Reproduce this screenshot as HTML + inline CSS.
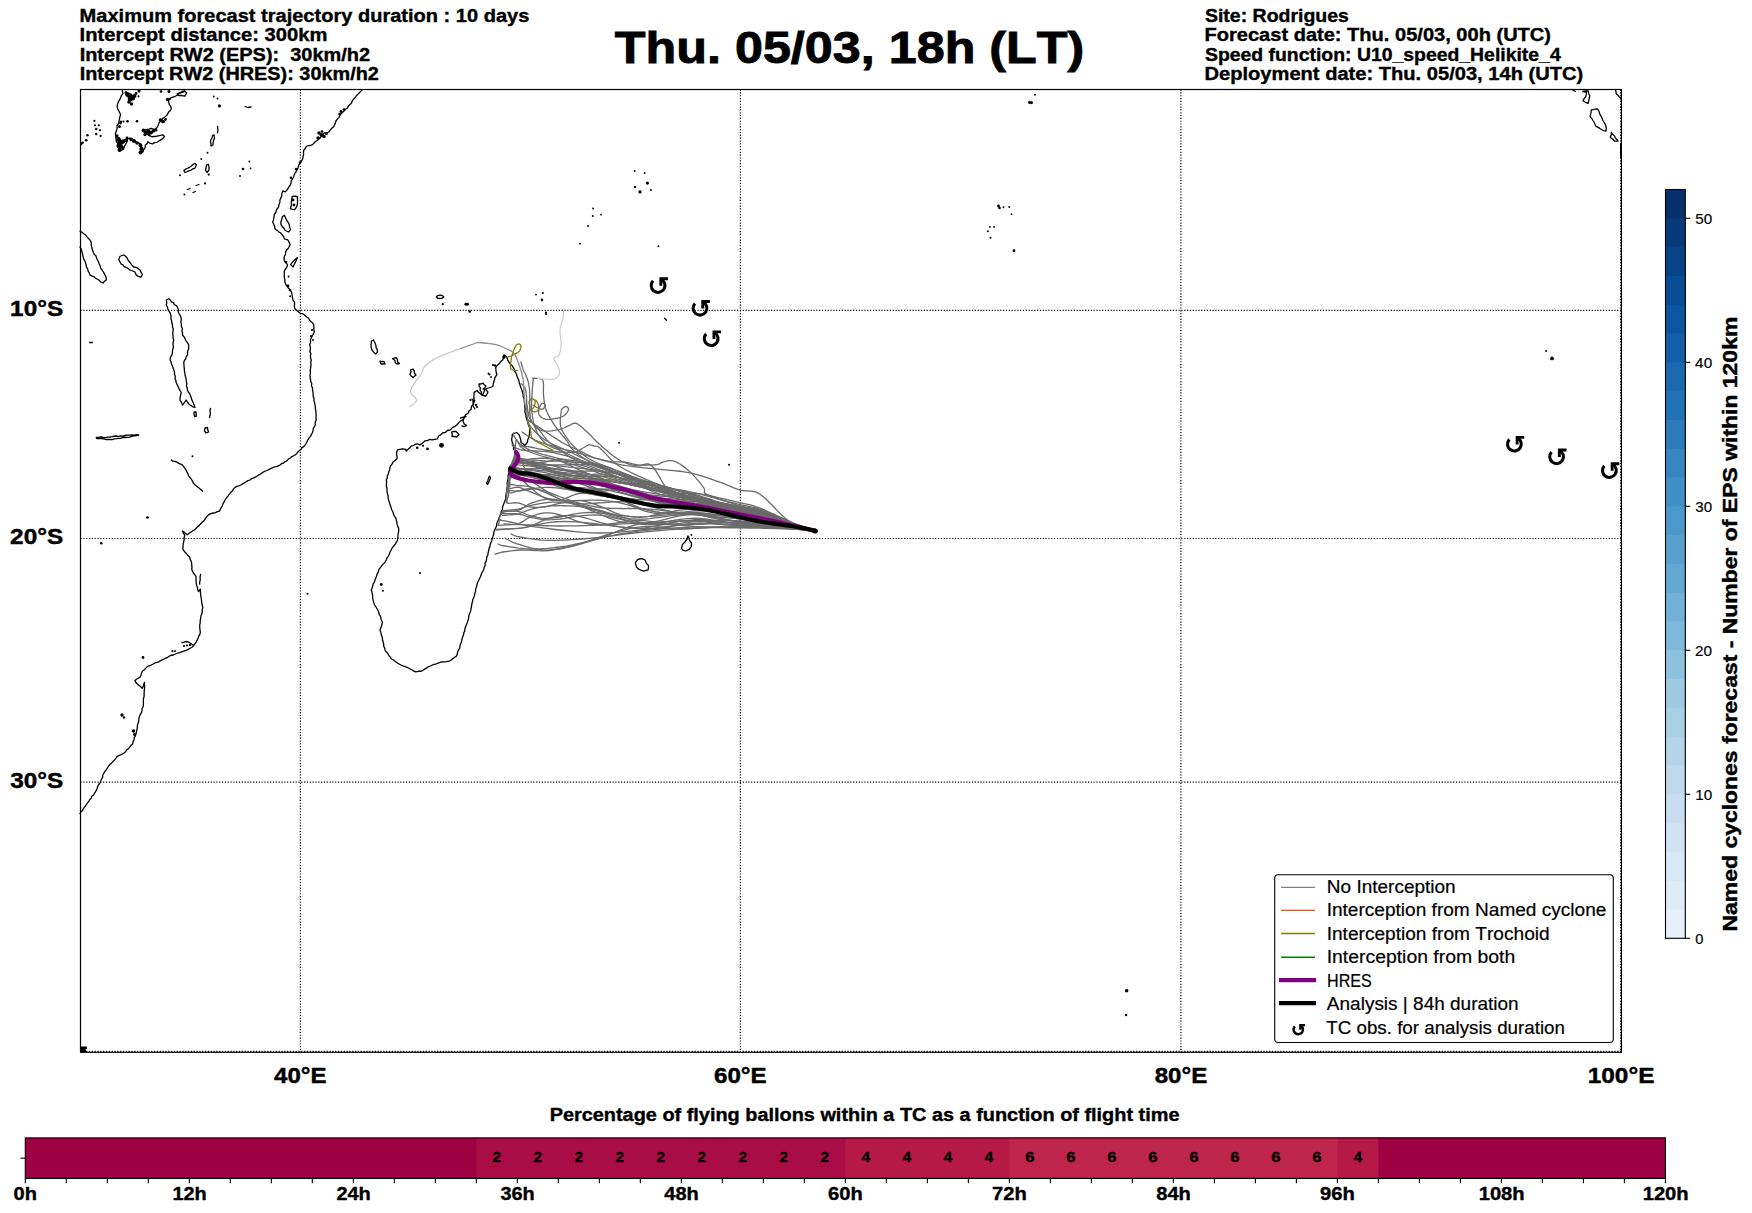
<!DOCTYPE html><html><head><meta charset="utf-8"><title>TC trajectories</title><style>html,body{margin:0;padding:0;background:#fff;}svg{display:block;}text{font-family:"Liberation Sans",sans-serif;font-kerning:none;white-space:pre;}</style></head><body>
<svg width="1752" height="1213" viewBox="0 0 1752 1213">
<rect x="0" y="0" width="1752" height="1213" fill="#fff"/>
<g fill="none" stroke="#000" stroke-width="1.2" stroke-dasharray="1.15 1.68">
<line x1="300.4" y1="89.5" x2="300.4" y2="1052.3"/>
<line x1="740.4" y1="89.5" x2="740.4" y2="1052.3"/>
<line x1="1180.9" y1="89.5" x2="1180.9" y2="1052.3"/>
<line x1="1620.6" y1="89.5" x2="1620.6" y2="1052.3"/>
<line x1="80.5" y1="310.4" x2="1621.4" y2="310.4"/>
<line x1="80.5" y1="538.5" x2="1621.4" y2="538.5"/>
<line x1="80.5" y1="782.2" x2="1621.4" y2="782.2"/>
<line x1="80.5" y1="1051.4" x2="1621.4" y2="1051.4"/>
</g>
<g fill="none" stroke="#000" stroke-width="1.3" stroke-linejoin="round" stroke-linecap="round">
<path d="M362.5,89.6 L360.93,91.16 L359.36,92.73 L357.83,94.33 L356.24,95.88 L355,97.75 L353.6,99.3 L352.23,100.88 L351.55,102.98 L350.02,104.43 L348.47,105.87 L347.5,107.75 L345.67,109.29 L344,111 L341.77,112.91 L340,115.25 L338.92,117.34 L337.35,119.1 L336,121 L335.06,123.83 L333.75,126.5 L332.16,128.04 L330.58,129.58 L329.34,131.46 L327.5,132.75 L324,133 L322.8,134.89 L321.25,136.5 L319.5,138.5 L317.5,140.25 L315.61,141.45 L314.03,142.99 L312.5,144.6 L310.5,145.49 L308.26,145.64 L306.25,146.5 L305.24,148.54 L303.75,150.25 L303.44,152.32 L303.61,154.45 L303.1,156.5 L302.55,159.14 L301.25,161.5 L299.75,163.21 L298.75,165.25 L298.13,167.42 L297.29,169.5 L296.25,171.5 L294.97,173.2 L294.11,175.12 L293.59,177.2 L292.5,179 L291.25,180.81 L290.99,182.98 L290.3,185 L288.87,186.89 L287.8,189 L285.3,191.9 L282.8,190.9 L281.8,193.9 L281.7,195.98 L280.9,197.9 L279.88,199.98 L279.9,202.3 L278.93,204.73 L278.4,207.3 L276.65,209.5 L275.9,212.2 L274.46,214.47 L273.9,217.1 L273.53,219.66 L272.7,222.1 L273.7,223.98 L274.4,226 L275.4,229.5 L277.38,230.42 L278.9,232 L280.88,233.18 L282.3,235 L283.76,236.71 L284.3,238.9 L287.8,239.9 L289.17,242.25 L290.1,244.8 L288.6,247.8 L287.05,249.68 L285.7,251.7 L285.52,254.37 L284.2,256.7 L284.2,260.6 L285.7,262.6 L287.6,264.6 L286.7,267.5 L285.27,269.39 L284.2,271.5 L284.39,274.45 L284.2,277.4 L284.92,279.65 L284.83,282.08 L285.7,284.3 L287.17,286.29 L288.6,288.3 L290.28,290.17 L291.6,292.3 L292.12,295.25 L292.6,298.2 L293.03,300.25 L294.44,301.96 L294.6,304.1 L294.28,306.66 L295.1,309.1 L297.5,311.1 L300.5,313.5 L302.7,313.71 L304.5,315 L306.27,316.74 L308.4,318 L309.57,320.2 L311.4,321.9 L313.14,323.59 L313.9,325.9 L313.76,328.87 L314.3,331.8 L313.5,333.87 L312.4,335.8 L311.32,337.71 L310.4,339.7 L310.58,342.44 L309.6,345 L310.38,347.08 L310.45,349.24 L309.76,351.49 L310.9,353.53 L310.47,355.75 L310.5,357.91 L311.25,360 L310.72,362.11 L311.02,364.3 L310.83,366.44 L310.52,368.57 L310.14,370.7 L310.49,372.88 L310,375 L310.16,377.18 L310.48,379.32 L310.79,381.48 L311.79,383.51 L311.43,385.77 L312.47,387.8 L312.5,390 L312.98,392.12 L313.13,394.3 L313.24,396.48 L314.05,398.55 L313.95,400.77 L314.61,402.86 L315,405 L315.33,407.13 L315.5,409.27 L315.79,411.41 L316.05,413.54 L316.17,415.69 L315.92,417.87 L316.25,420 L315.24,421.97 L315.26,424.24 L314.72,426.35 L313.38,428.22 L313.1,430.41 L312.5,432.5 L311.49,434.32 L310.54,436.18 L309.22,437.82 L307.99,439.51 L307.17,441.45 L306.13,443.25 L305,445 L303.82,446.68 L301.91,447.62 L300.98,449.55 L299.29,450.72 L297.67,451.95 L296.64,453.78 L295,455 L293.23,455.96 L291.47,456.92 L289.94,458.25 L288.21,459.25 L286.84,460.82 L285.03,461.71 L283.49,463.01 L281.51,463.66 L280,465 L278.19,465.93 L276.26,466.6 L274.22,466.98 L272.39,467.86 L270.48,468.55 L268.76,469.72 L266.88,470.48 L265,471.25 L263.03,472.19 L261.26,473.45 L259.46,474.68 L257.54,475.69 L255.77,476.96 L253.8,477.9 L251.68,478.57 L250,480 L247.96,480.61 L246.2,481.78 L244.38,482.81 L242.56,483.87 L240.77,484.98 L238.83,485.79 L236.77,486.36 L235,487.5 L233.52,488.88 L232.59,490.69 L231.07,492.04 L229.83,493.61 L228.63,495.22 L227.4,496.79 L226.09,498.31 L225,500 L224.18,501.91 L223.02,503.66 L222.41,505.68 L221.34,507.47 L220.22,509.24 L219.5,511.2 L217.39,511.65 L215.41,512.56 L213.3,513 L210.72,513.62 L208.4,514.9 L206.76,516.67 L205.25,518.56 L204.05,520.7 L202.2,522.3 L200.67,523.75 L199.34,525.4 L197.6,526.64 L196.22,528.24 L194.7,529.7 L192.71,530.74 L190.93,532.1 L189.02,533.25 L187.3,534.7 L185.59,533.56 L184.1,532.14 L182.4,531 L183.43,533.24 L184.8,535.3 L184.14,537.52 L184.12,539.85 L183.6,542.1 L183.13,544.54 L182.91,547.01 L183,549.5 L184.43,551.45 L186.1,553.2 L187.68,555.37 L189.8,557 L190.08,559.14 L191.05,561.07 L191.7,563.1 L191.68,565.17 L191.97,567.23 L191.7,569.3 L192.54,571.31 L193.55,573.22 L194.94,574.92 L196,576.8 L196,578.96 L196.12,581.11 L196.27,583.26 L196.6,585.4 L197.48,587.39 L197.65,589.6 L198.5,591.6 L200.3,589.1 L200.44,591.61 L200.57,594.11 L200.9,596.6 L201.34,598.81 L201.56,601.06 L201.82,603.3 L202.31,605.5 L202.8,607.7 L202.15,609.81 L202.22,612.08 L201.64,614.21 L200.9,616.3 L200.65,618.48 L200.18,620.63 L200.22,622.86 L199.7,625 L199.75,627.48 L200,629.94 L200.3,632.4 L199.86,634.42 L198.77,636.16 L198.18,638.11 L197.2,639.9 L196.4,641.79 L195.25,643.46 L194.02,645.08 L192.8,646.7 L190.69,648.03 L188.46,649.12 L186.29,650.33 L183.9,651.1 L181.78,651.87 L179.67,652.68 L177.48,653.24 L175.36,654 L173.33,655.01 L171.02,655.25 L169,656.3 L167.21,657.66 L165.1,658.37 L163.18,659.46 L161.17,660.36 L159.31,661.57 L157.2,662.3 L154.85,662.98 L152.74,664.24 L150.59,665.42 L148.2,666 L146.17,667.67 L144.48,669.71 L142.3,671.2 L141.53,673.15 L140.95,675.18 L140.1,677.1 L138.33,678.28 L136.42,679.27 L134.9,680.8 L136.2,682.81 L137.9,684.5 L140.14,686.3 L142.3,688.2 L143.27,686.32 L143.87,684.31 L144.5,682.3 L144.54,684.87 L144.65,687.44 L144.3,690 L144.16,692.13 L144.12,694.27 L144.1,696.4 L143.54,698.44 L143.33,700.52 L143.41,702.63 L143.42,704.73 L143.1,706.8 L142.04,708.77 L141.95,711.1 L141.11,713.15 L140.01,715.1 L139.3,717.2 L138.8,719.3 L138.75,721.48 L137.96,723.52 L137.34,725.6 L137.33,727.79 L136.87,729.9 L136.4,732 L135.99,734.05 L135.33,736.02 L134.19,737.84 L134.03,739.96 L132.96,741.81 L132.7,743.9 L131.09,745.16 L129.91,746.81 L128.74,748.48 L126.95,749.57 L125.87,751.32 L124.5,752.8 L122.56,753.83 L120.63,754.86 L118.6,755.7 L116.84,756.91 L115.64,758.67 L114.27,760.27 L112.68,761.65 L111.4,763.33 L109.7,764.6 L108.42,766.33 L107.34,768.19 L106.24,770.03 L104.71,771.59 L103.7,773.5 L102.73,775.28 L102.61,777.39 L101.5,779.12 L100.8,781 L99.96,783.05 L98.49,784.78 L97.6,786.8 L96.98,788.96 L95.97,790.92 L94.8,792.8 L93.79,794.69 L92.01,796.04 L91.23,798.1 L89.8,799.68 L88.65,801.48 L87.4,803.2 L86.07,804.87 L84.87,806.62 L83.54,808.29 L82.72,810.31 L81.06,811.75 L80,813.6"/>
<path d="M292.2,196.4 L294.71,196.26 L297.2,196.6 L297.6,200 L297.46,202.4 L297.4,204.8 L296.22,207.34 L294.7,209.7 L292.45,209.44 L290.3,208.7 L291.5,205 L291.2,202.3 L291.74,199.36 L292.2,196.4 Z"/>
<path d="M284.3,215.2 L285.34,217.38 L286.3,219.6 L287.94,222.01 L289.3,224.6 L289.61,227.12 L290.5,229.5 L288.8,232 L285.3,230.5 L284.14,228.69 L282.8,227 L280.9,224.6 L280.8,222 L281.8,219.6 L282.3,216.7 L284.3,215.2 Z"/>
<path d="M297.5,257.6 L296,261 L294.6,263.6 L293.1,267 L290.6,264.6 L292.13,262.4 L294.1,260.6 L295.76,259.06 L297.5,257.6 Z"/>
<path d="M200.6,574.3 L200.07,577.13 L200.2,580 L199.64,582.06 L199.7,584.2"/>
<path d="M182,642.5 L184.01,642.04 L186,641.5 L188.14,641.89 L190,643 L193,645"/>
<path d="M122.3,90.3 L122.9,93.8 L121.36,95.58 L120.6,97.8 L119.55,99.91 L118.3,101.9 L117.58,104.17 L117.1,106.5 L117.69,108.92 L118.9,111.1 L120.6,114.6 L119.79,117.1 L119.4,119.7 L118.88,121.76 L118.3,123.8 L117.06,125.93 L117.1,128.4 L116.42,131.06 L115.4,133.6 L115.87,136.18 L116,138.8 L116.32,141.3 L117.7,143.4 L118.77,145.89 L118.9,148.6 L120,150.9 L123.5,149.2 L124.35,146.47 L125.8,144 L127.15,141.56 L127.5,138.8 L129.8,138.2 L132.12,138.41 L133.9,139.9 L135.29,141.54 L137.3,142.3 L140.8,144 L141.05,146.37 L141.9,148.6 L141.45,150.63 L140.8,152.6 L142.26,150.66 L144.2,149.2 L145.23,147.28 L145.4,145.1 L147.09,143.77 L147.7,141.7 L149.4,142.8 L152.3,144 L154.46,142.61 L157,142.3 L159.28,140.82 L161.6,139.4 L163.11,138.01 L164.5,136.5 L162.7,134.8 L160.4,135.35 L158.1,135.9 L156.14,136.47 L154.1,136.5 L151.97,136.75 L150,135.9 L147.7,134.2 L145.4,132.4 L143.1,130.7 L146.6,129.6 L148.93,129.13 L151.2,128.4 L154.6,129.6 L156.73,127.87 L158.1,125.5 L158.97,122.83 L161,120.9 L162.69,118.59 L165,116.9 L167.16,114.86 L168.5,112.2 L170.33,110.47 L171.4,108.2 L170.48,106.07 L169.1,104.2 L168.5,100.7 L170.8,97.8 L174.3,96.7 L177.7,94.9 L179.38,93.09 L181.8,92.6 L184.7,91.5"/>
<path d="M177.2,93.8 L179.66,92.97 L181.8,91.5 L185,90.9 L186.5,93 L185,96.1 L181.2,95.5 L178.3,95.5 L177.2,93.8 Z"/>
<path d="M212.5,135.5 L214,134.8 L214.5,138 L213.63,140.25 L213.11,142.58 L213,145 L211,146 L210.91,143.98 L210.5,142 L210.82,139.73 L212.09,137.75 L212.5,135.5 Z"/>
<path d="M183.8,170.5 L185.55,169.14 L187.6,168.27 L189.59,167.31 L191.36,165.98 L192.98,164.42 L195,163.5 L196.5,165 L195.64,166.83 L194.5,168.5 L192.47,168.99 L190.81,170.36 L188.77,170.82 L186.93,171.76 L185,172.5 L183.8,170.5 Z"/>
<path d="M206.5,165 L208.5,164.5 L209.02,167.23 L209,170 L207,172.5 L205.5,170 L206.1,167.52 L206.5,165 Z"/>
<path d="M217.5,126.5 L217.87,128.58 L217.81,130.67 L217.5,132.75"/>
<path d="M245,106.5 L248,107.5 L251,107"/>
<path d="M196,185.5 L199,184.5"/>
<path d="M187.5,189.5 L190,188.5"/>
<path d="M193,192.5 L195.5,191.5"/>
<path d="M80,231.25 L81.96,232.38 L83.75,233.75 L85.99,235.26 L87.5,237.5 L90,240 L91.14,242.37 L91.25,245 L91.79,247.52 L92.5,250 L93.24,252.13 L94.09,254.2 L95.89,255.8 L96.57,257.96 L97.5,260 L98.6,261.91 L99.19,264.05 L100.21,265.99 L100.62,268.22 L102,270 L103.63,272.42 L105,275 L106.14,277.37 L106.25,280 L104.46,281.33 L103,283 L100.77,282.02 L99.09,280.2 L97,279 L95.25,277.99 L93.74,276.57 L91.78,275.94 L90,275 L89.33,272.95 L88.14,271.11 L87.66,268.98 L86.53,267.11 L86,265 L85.62,262.74 L84.69,260.66 L83.58,258.63 L83.03,256.43 L82.52,254.21 L82,252 L81.26,249.39 L80,247"/>
<path d="M120,256.25 L123.75,255 L125.64,256.22 L127,258 L128.29,260.39 L130,262.5 L131.73,264.87 L133.75,267 L136.04,267.28 L138,268.5 L140,270 L141.07,272.35 L142.5,274.5 L141,277 L137.5,276 L135.83,274.26 L135,272 L131.5,270.5 L129.45,269.9 L127.89,268.4 L126,267.5 L124.15,266.59 L122.93,264.8 L121,264 L119.85,261.76 L118.75,259.5 L120,256.25 Z"/>
<path d="M168.75,298.75 L170.36,300.06 L171.42,301.92 L173.52,302.73 L174.39,304.77 L176.42,305.66 L177.5,307.5 L178.53,309.46 L178.23,311.82 L179.17,313.81 L180.32,315.74 L181.07,317.78 L181.25,320 L180.86,322.19 L181.41,324.3 L181.4,326.46 L182.4,328.54 L181.99,330.73 L182.5,332.84 L182.5,335 L184.02,336.83 L185.17,338.89 L186.13,341.07 L187.65,342.9 L188.75,345 L188.64,347.02 L188.68,349.05 L187.61,350.95 L187.57,352.98 L187.5,355 L186.24,356.71 L185.7,358.79 L184.44,360.5 L183.75,362.5 L183.94,364.58 L184.09,366.67 L184.32,368.76 L184.39,370.85 L184.87,372.91 L185,375 L185.68,377.09 L186.08,379.22 L186.31,381.39 L186.79,383.51 L186.48,385.77 L187.16,387.85 L187.5,390 L188.25,391.97 L189.73,393.57 L190.33,395.61 L191.25,397.5 L191.71,399.61 L192.66,401.53 L193.55,403.48 L194.28,405.49 L195,407.5 L192.36,406.54 L190,405 L188.53,403.5 L187.28,401.83 L186.25,400 L185.08,401.73 L183.82,403.39 L182.5,405 L181.52,402.36 L180,400 L180.14,397.45 L180.64,394.97 L181.25,392.5 L180.09,390.58 L179.01,388.62 L178.1,386.58 L177.06,384.59 L176.25,382.5 L175.82,380.42 L175.05,378.41 L175.33,376.18 L174.48,374.19 L174.51,372.01 L173.75,370 L173.14,367.95 L172.38,365.95 L171.48,364.01 L171.08,361.87 L170,360 L170.4,357.36 L171.86,355.06 L172.5,352.5 L172.46,350.39 L173.12,348.35 L173.4,346.28 L172.93,344.13 L173.18,342.05 L173.75,340 L173,337.9 L173.07,335.74 L172.71,333.61 L172.92,331.44 L173.42,329.24 L172.52,327.16 L172.5,325 L171.86,322.96 L171.63,320.84 L170.99,318.8 L171.11,316.61 L170.67,314.53 L170,312.5 L168.7,310.81 L167.85,308.89 L167.37,306.78 L166.25,305 L166.78,302.5 L166.25,300 L168.75,298.75 Z"/>
<path d="M194,412 L196,412 L196.13,414.01 L196.5,416 L194.5,416.5 L194.19,414.26 L194,412 Z"/>
<path d="M210.5,408.5 L209.87,410.71 L210.39,413.04 L210.1,415.29 L209.5,417.5"/>
<path d="M205,428 L207.5,427.5 L207.78,429.8 L208.5,432 L206,433 L204.5,431 L205,428 Z"/>
<path d="M96.25,437.5 L98.54,437.34 L100.82,436.97 L103.13,437.29 L105.43,437.56 L107.71,437.1 L110,437 L112.13,436.67 L114.25,436.25 L116.39,436.02 L118.6,436.46 L120.71,435.92 L122.89,436.06 L125,435.5 L127.28,435.06 L129.58,435.13 L131.86,434.89 L134.16,435.08 L136.45,434.73 L138.75,435 L136.49,435.61 L134.18,435.91 L131.9,436.4 L129.65,437.02 L127.36,437.45 L125,437.5 L122.81,437.41 L120.75,438.33 L118.57,438.35 L116.44,438.72 L114.28,438.9 L112.19,439.54 L110,439.5 L107.82,439.48 L105.64,439.48 L103.5,438.97 L101.36,438.5 L99.17,438.59 L97,438.5 L96.25,437.5 Z"/>
<path d="M171.25,460 L173.01,461.09 L175.09,461.46 L177.03,462.15 L178.74,463.36 L180.63,464.16 L182.5,465 L183.62,466.7 L184.91,468.28 L186,470 L186.91,471.92 L187.84,473.83 L188.71,475.78 L190,477.5 L191.38,479.29 L192.53,481.23 L193.53,483.27 L195,485 L197.02,486.39 L198.95,487.89 L200.72,489.57 L202.5,491.25"/>
<path d="M503.8,354.8 L505.8,355.8 L507.1,357.65 L507.61,359.9 L508.8,361.8 L509.9,363.59 L511.52,364.97 L512.7,366.7 L514.12,369.08 L515,371.7 L516.14,373.5 L516.85,375.49 L517.5,377.5 L518.65,379.89 L519.22,382.48 L520,385 L520.77,387.52 L521.86,389.94 L522.5,392.5 L523.22,394.43 L523.1,396.53 L524,398.43 L524.26,400.46 L524.4,402.5 L524.69,404.49 L524.74,406.49 L525.08,408.48 L524.94,410.5 L525,412.5 L525.77,414.65 L526.06,416.93 L526.83,419.07 L527.5,421.25 L528.03,423.85 L529.05,426.29 L530,428.75 L529.59,430.81 L529.54,432.91 L529.4,435 L528.74,437.48 L527.76,439.86 L527.3,442.4 L524.8,445.5 L522.98,443.85 L521,442.4 L520.75,439.85 L519.98,437.42 L519.2,435 L516.7,432.5 L514.44,433.25 L512.3,434.3 L512.18,436.53 L511.7,438.7 L511.83,440.86 L512.55,442.92 L513.13,445.01 L513.56,447.12 L513.6,449.3 L515.36,451.3 L516.7,453.6 L515.99,455.68 L514.81,457.54 L514.22,459.67 L513.5,461.74 L512.3,463.6 L510.9,465.14 L509.8,466.91 L508.6,468.6 L508.78,471.1 L508.56,473.56 L508,476 L508.18,478.02 L507.87,480.01 L507.35,481.98 L507.16,483.98 L507.4,486 L506.95,488.13 L506.9,490.32 L506.38,492.44 L506.08,494.59 L505.75,496.74 L505.64,498.92 L504.9,501 L504.12,503.11 L503.22,505.17 L502.59,507.33 L502.35,509.62 L501.31,511.64 L500.86,513.86 L499.9,515.9 L499.03,517.8 L498.51,519.83 L497.43,521.65 L496.82,523.65 L496.62,525.79 L495.75,527.69 L494.9,529.6 L493.96,531.68 L493.68,533.96 L493.08,536.14 L492.4,538.3 L491.83,540.4 L490.96,542.41 L490.22,544.45 L489.91,546.63 L488.96,548.61 L488.7,550.8 L488.07,552.85 L487.9,555.02 L486.79,556.93 L486.54,559.08 L486.27,561.23 L485,563.1 L485.17,565.36 L484.2,567.32 L483.7,569.4 L482.83,571.28 L481.65,573.01 L481.12,575.05 L480.36,576.98 L479.43,578.83 L478.6,580.73 L477.5,582.5 L476.92,584.63 L476.54,586.81 L475.7,588.88 L475.56,591.12 L474.94,593.24 L474.48,595.41 L473.75,597.5 L472.84,599.55 L472.41,601.72 L471.87,603.86 L471.52,606.05 L471.15,608.23 L470.81,610.43 L470,612.5 L469.12,614.51 L468.76,616.67 L468.48,618.86 L467.75,620.91 L467.18,623.01 L466.25,625 L465.53,626.9 L464.83,628.8 L464.81,630.9 L463.8,632.71 L463.61,634.76 L462.78,636.63 L462.08,638.53 L461.71,640.53 L461.25,642.5 L460.31,644.38 L459.91,646.46 L459.48,648.53 L458.38,650.35 L457.61,652.3 L457.2,654.37 L456.25,656.25 L454.42,657.57 L452.58,658.87 L450.83,660.31 L448.75,661.25 L446.26,661.65 L443.76,661.84 L441.25,662 L439.38,662.73 L437.44,663.26 L435.65,664.2 L433.61,664.47 L431.79,665.31 L430,666.25 L428.08,666.96 L426.42,668.12 L424.68,669.13 L422.99,670.22 L421.25,671.25 L419.15,671.18 L417.09,671.69 L415,671.75 L413.16,670.62 L411.32,669.5 L409.38,668.55 L407.5,667.5 L405.24,666.72 L402.99,665.94 L400.81,664.99 L398.75,663.75 L396.81,662.6 L395.04,661.2 L393.24,659.83 L391.25,658.75 L390.14,656.9 L388.62,655.34 L387.78,653.3 L386.1,651.85 L385,650 L384.67,647.96 L383.67,646.08 L383.7,643.95 L383.13,641.97 L382.5,640 L382.35,637.91 L381.81,635.92 L381.15,633.96 L380.76,631.93 L380,630 L381.01,627.56 L381.75,625.03 L382.5,622.5 L381.53,620.58 L381.01,618.5 L380.55,616.39 L379.3,614.57 L378.75,612.5 L378.09,610.33 L376.78,608.48 L375.67,606.54 L374.39,604.68 L373.75,602.5 L373.25,600.43 L372.66,598.38 L372.62,596.23 L372.4,594.1 L371.99,592.02 L371.25,590 L372.09,588.03 L372.67,585.97 L373.21,583.89 L374.39,582.05 L375,580 L375.79,578.02 L376.66,576.06 L377.16,573.96 L378.29,572.11 L378.75,570 L379.82,568.2 L381.13,566.57 L382.35,564.89 L383.83,563.39 L385.25,561.86 L386.25,560 L387.01,557.88 L388.35,556.05 L389.44,554.1 L390.05,551.9 L391.25,550 L392.2,547.81 L393.79,546.03 L395.22,544.14 L396.51,542.16 L397.5,540 L397.93,538.02 L397.93,535.99 L398.19,533.99 L398.52,532 L398.75,530 L398.56,527.92 L397.6,526.04 L397.08,524.04 L396.83,521.98 L396.25,520 L395.78,517.86 L394.39,516.09 L393.46,514.14 L393,512 L391.72,509.79 L391.05,507.31 L390,505 L389.58,502.81 L388.75,500.72 L388.26,498.56 L388.07,496.32 L387.61,494.14 L387,492 L387.03,489.99 L386.93,487.99 L386.27,486.02 L386.49,484 L386.64,481.98 L386.25,480 L387.23,478.02 L387.36,475.79 L388.39,473.83 L388.86,471.7 L389.7,469.68 L390,467.5 L390.81,465.56 L392.14,463.91 L393,462 L395.17,460.56 L397,458.7 L397.08,456.47 L396.49,454.21 L396.79,451.99 L397.5,449.8 L400,449.3 L402.39,448.99 L404.71,449.2 L406.9,450.3 L409.8,447.8 L411.09,446.12 L413.26,445.72 L414.8,444.4 L417.33,443.9 L419.7,444.9 L421.67,443.95 L423.31,442.58 L424.7,440.9 L427.33,440.72 L429.6,439.4 L432.1,439.98 L434.6,439.4 L437.5,438.9 L438.5,436 L440.74,434.82 L442.5,433 L445.32,432.47 L447.4,430.5 L450.34,429.8 L452.4,427.6 L455.3,426.1 L456.97,424.77 L458.3,423.1 L460.3,421.1 L462.92,419.78 L464.3,417.2 L465.71,414.67 L468.2,413.2 L469.1,410.79 L471.2,409.3 L471.43,406.49 L473.2,404.3 L473.1,401.75 L474.1,399.4 L473.86,397.07 L474.02,394.73 L474.1,392.4 L477.1,390.5 L478.36,392.2 L480.1,393.4 L482.1,395.4 L483.47,393.6 L484,391.4 L484.95,389.38 L487,388.5 L490,387.5 L492.9,386.5 L493.22,384.01 L493.9,381.6 L494.48,379.62 L494.9,377.6 L496.9,374.6 L496.17,372.2 L495.9,369.7 L495.7,367.52 L496.9,365.7 L498.53,364.38 L499.9,362.8 L501.18,361.13 L502.8,359.8 L503.64,357.37 L503.8,354.8 L503.8,354.8 Z"/>
<path d="M460.5,418 L463.25,417.24 L466,416.5 L463.77,418.26 L463,421 L464.08,423.77 L466.5,425.5 L464.34,426.56 L462,426"/>
<path d="M479,384 L481.12,383.98 L483,383 L484.2,384.8 L486,386 L484.77,387.77 L483,389 L485.87,389.88 L488,392 L487.04,394.02 L486,396 L483.93,395.77 L482,395 L481.42,392.33 L480,390 L480.45,387.87 L479.11,386.04 L479,384 Z"/>
<path d="M451.5,432 L453.71,431.35 L456,431.5 L457.5,433 L459,434.5 L456.5,437.2 L454.31,436.48 L452,436.5 L452.3,434.19 L451.5,432 Z"/>
<path d="M472,399 L474,402 L473.36,403.97 L473,406 L475,409"/>
<path d="M489.5,476 L490.5,478 L489.65,480.24 L488.62,482.39 L487.5,484.5 L486.5,483 L487.76,480.78 L488.51,478.34 L489.5,476 Z"/>
<path d="M436.3,297 L437.8,295.6 L439.89,295.19 L442,295.5 L443.8,296.8 L442.2,298.3 L440.1,298.41 L438,298.4 L436.3,297 Z"/>
<path d="M371.5,341 L373.5,340 L375,343 L375.83,345.19 L376.12,347.54 L377.2,349.66 L377.5,352 L375.5,354 L373.61,352.12 L372,350 L371.18,347.56 L371,345 L371.23,343 L371.5,341 Z"/>
<path d="M380,361 L381.95,361.63 L384,361.5 L385,364 L383,363.97 L381,364 L380,361 Z"/>
<path d="M392.5,358.5 L396,357.5 L397.35,359.39 L397.62,361.92 L399.5,363.5 L397,364 L395.33,362.63 L395,360.5 L392.5,358.5 Z"/>
<path d="M410.5,370 L413,369 L414.25,370.88 L414.47,373.26 L416,375 L413,377.5 L411,376 L409.9,374.08 L411.17,371.96 L410.5,370 Z"/>
<path d="M635.3,563 L636.46,561.19 L637.8,559.5 L640.8,558.7 L643.06,558.98 L645.1,560 L646.4,563.4 L648.5,565.5 L648.5,567.67 L648.1,569.8 L645.96,570.48 L643.8,571.1 L641.42,570.34 L639.1,569.4 L636.6,567.2 L635.96,565.1 L635.3,563 Z"/>
<path d="M687.9,536 L687.1,539 L684.9,542 L682.4,544.6 L681.5,548.4 L682.8,550.1 L685.8,551 L689.2,549.3 L691.4,546.3 L691.4,542.8 L690,541.29 L689.2,539.4 L688.4,536.4 L687.9,536 Z"/>
<path d="M1582.7,91.5 L1585.43,90.98 L1588.2,90.9 L1588.59,93.46 L1589.7,95.8 L1589.25,98.34 L1588.72,100.87 L1588.2,103.4 L1585.44,102.29 L1583,100.6 L1584.1,98.7 L1585.5,97 L1586.31,94.62 L1586.4,92.1 L1582.7,91.5 Z"/>
<path d="M1591.3,109.8 L1593.36,109.65 L1595.37,109.21 L1597.4,108.9 L1598.66,110.61 L1599.37,112.59 L1600.03,114.6 L1601.22,116.34 L1602.06,118.27 L1602.78,120.25 L1603.91,122.02 L1604.86,123.88 L1605.9,125.7 L1606.27,128.4 L1605.9,131.1 L1603.32,130.56 L1601,129.3 L1598.66,127.62 L1596.1,126.3 L1595.02,124.6 L1594.32,122.68 L1593.27,120.97 L1592.32,119.2 L1590.93,117.68 L1590,115.9 L1590.82,113.95 L1591.07,111.88 L1591.3,109.8 Z"/>
<path d="M1611.4,132.4 L1612.49,134.35 L1614.3,135.75 L1615.24,137.82 L1616.81,139.4 L1618.1,141.2 L1614.4,141.2 L1612.56,138.97 L1610.2,137.3 L1611.18,134.94 L1611.4,132.4 Z"/>
<path d="M1615.7,90.3 L1616.3,93.9 L1618.06,95.37 L1619.54,97.12 L1621.1,98.8"/>
<path d="M1620.6,144 L1620.78,146 L1620.62,148 L1620.77,150 L1620.47,152 L1620.9,154 L1620.86,156 L1620.6,158"/>
<path d="M1572.3,89.7 L1575.4,91.5"/>
<path d="M664.5,318.3 L666.5,320.3"/>
</g><g fill="#000">
<circle cx="101.25" cy="543.25" r="1.32"/>
<circle cx="143" cy="657.5" r="1.43"/>
<circle cx="122" cy="715" r="1.65"/>
<circle cx="124" cy="717.5" r="1.21"/>
<circle cx="133.5" cy="731" r="1.76"/>
<circle cx="134.5" cy="734.5" r="1.43"/>
<circle cx="172.5" cy="651.2" r="1.1"/>
<circle cx="175" cy="651" r="0.95"/>
<circle cx="184" cy="646" r="1.1"/>
<circle cx="187" cy="645.5" r="1.1"/>
<circle cx="190" cy="645" r="1.21"/>
<circle cx="307.5" cy="593.75" r="1.1"/>
<circle cx="420" cy="573" r="1.1"/>
<circle cx="381.25" cy="584.5" r="1.43"/>
<circle cx="383" cy="590.75" r="0.99"/>
<circle cx="192.5" cy="456.25" r="0.99"/>
<circle cx="147.5" cy="517.5" r="1.32"/>
<circle cx="90" cy="342.5" r="0.95"/>
<circle cx="92" cy="342.5" r="0.95"/>
<circle cx="442.8" cy="304.2" r="1.1"/>
<circle cx="465.8" cy="304.2" r="1.43"/>
<circle cx="467.5" cy="304.2" r="1.43"/>
<circle cx="469.8" cy="311.5" r="1.32"/>
<circle cx="536" cy="294.6" r="0.95"/>
<circle cx="542.8" cy="293" r="1.1"/>
<circle cx="541.9" cy="299.6" r="1.21"/>
<circle cx="546" cy="312.5" r="1.1"/>
<circle cx="546" cy="314" r="1.1"/>
<circle cx="619.1" cy="442.7" r="0.99"/>
<circle cx="729" cy="464.8" r="0.99"/>
<circle cx="542" cy="300.5" r="0.95"/>
<circle cx="634.75" cy="171" r="0.95"/>
<circle cx="644.75" cy="172.9" r="0.95"/>
<circle cx="647.5" cy="183.1" r="1.54"/>
<circle cx="635" cy="186.9" r="1.21"/>
<circle cx="640" cy="191.9" r="1.65"/>
<circle cx="651" cy="190" r="0.95"/>
<circle cx="593.1" cy="208.5" r="0.99"/>
<circle cx="592.75" cy="216" r="0.99"/>
<circle cx="601" cy="214.6" r="0.95"/>
<circle cx="588.1" cy="226" r="0.99"/>
<circle cx="580" cy="243.75" r="0.95"/>
<circle cx="658.4" cy="246.25" r="0.99"/>
<circle cx="1035" cy="94.8" r="0.95"/>
<circle cx="1029.5" cy="102.5" r="1.43"/>
<circle cx="1031.5" cy="102.8" r="1.43"/>
<circle cx="998.5" cy="206" r="1.43"/>
<circle cx="999.5" cy="208" r="1.32"/>
<circle cx="1003.5" cy="207.3" r="0.95"/>
<circle cx="1009.3" cy="206.9" r="0.99"/>
<circle cx="1011.5" cy="214.1" r="0.95"/>
<circle cx="989.8" cy="226.9" r="0.95"/>
<circle cx="994.1" cy="226.9" r="0.95"/>
<circle cx="987.9" cy="231.2" r="0.95"/>
<circle cx="990.5" cy="237.8" r="0.99"/>
<circle cx="1014" cy="250.8" r="1.43"/>
<circle cx="1546.1" cy="350.9" r="0.99"/>
<circle cx="1552" cy="358.4" r="1.87"/>
<circle cx="1126.7" cy="990.8" r="1.76"/>
<circle cx="1126.1" cy="1015" r="1.21"/>
<circle cx="691.4" cy="534.9" r="0.95"/>
<circle cx="127.5" cy="94.5" r="2.42"/>
<circle cx="130" cy="96" r="2.75"/>
<circle cx="132.5" cy="98" r="2.53"/>
<circle cx="130" cy="99.5" r="2.2"/>
<circle cx="134.5" cy="96" r="1.98"/>
<circle cx="129" cy="102" r="1.76"/>
<circle cx="131.5" cy="104" r="1.65"/>
<circle cx="136" cy="93.5" r="1.43"/>
<circle cx="138.5" cy="96.3" r="1.1"/>
<circle cx="126" cy="92.5" r="1.54"/>
<circle cx="117" cy="136" r="1.65"/>
<circle cx="118.5" cy="139.5" r="2.42"/>
<circle cx="120.5" cy="142.5" r="2.75"/>
<circle cx="123" cy="141.5" r="2.2"/>
<circle cx="119" cy="146" r="2.53"/>
<circle cx="121.5" cy="147.5" r="2.42"/>
<circle cx="119.5" cy="150" r="1.98"/>
<circle cx="125.5" cy="140.5" r="1.76"/>
<circle cx="127" cy="138" r="1.43"/>
<circle cx="143.5" cy="130.5" r="1.98"/>
<circle cx="146" cy="132.5" r="2.2"/>
<circle cx="148.5" cy="131.5" r="1.98"/>
<circle cx="151" cy="132.5" r="1.98"/>
<circle cx="153.5" cy="131" r="1.76"/>
<circle cx="156" cy="130" r="1.54"/>
<circle cx="145" cy="134.5" r="1.65"/>
<circle cx="149" cy="134.5" r="1.54"/>
<circle cx="131" cy="139.5" r="1.76"/>
<circle cx="134" cy="141" r="1.98"/>
<circle cx="137" cy="143" r="1.76"/>
<circle cx="140.5" cy="145.5" r="1.98"/>
<circle cx="141.5" cy="149" r="2.2"/>
<circle cx="140.5" cy="152.5" r="1.98"/>
<circle cx="142.5" cy="151" r="1.65"/>
<circle cx="160.5" cy="120" r="1.76"/>
<circle cx="163" cy="121.5" r="1.87"/>
<circle cx="165.5" cy="119.5" r="1.43"/>
<circle cx="167.5" cy="99.5" r="1.65"/>
<circle cx="169.5" cy="99" r="1.32"/>
<circle cx="139" cy="91" r="1.65"/>
<circle cx="161" cy="91.5" r="1.32"/>
<circle cx="169" cy="91.5" r="1.54"/>
<circle cx="120.5" cy="123" r="1.43"/>
<circle cx="119.5" cy="126.5" r="1.54"/>
<circle cx="121" cy="121.5" r="1.1"/>
<circle cx="127.5" cy="121.3" r="1.32"/>
<circle cx="137" cy="121.2" r="1.32"/>
<circle cx="123.5" cy="121.5" r="1.1"/>
<circle cx="94.4" cy="120.9" r="1.1"/>
<circle cx="95" cy="125.25" r="1.1"/>
<circle cx="98.75" cy="125.25" r="1.1"/>
<circle cx="96.25" cy="129" r="1.21"/>
<circle cx="100" cy="130.25" r="1.1"/>
<circle cx="96.25" cy="134" r="1.21"/>
<circle cx="100.6" cy="135.9" r="1.1"/>
<circle cx="87.5" cy="135.25" r="1.21"/>
<circle cx="86.25" cy="140.25" r="1.32"/>
<circle cx="82.5" cy="142.75" r="1.32"/>
<circle cx="81.25" cy="144" r="1.21"/>
<circle cx="213.75" cy="96.5" r="0.99"/>
<circle cx="217.5" cy="98.4" r="0.99"/>
<circle cx="219.4" cy="105.9" r="1.54"/>
<circle cx="207.5" cy="152.75" r="0.99"/>
<circle cx="201.25" cy="159" r="0.95"/>
<circle cx="180" cy="175.25" r="0.99"/>
<circle cx="208.75" cy="174.6" r="1.1"/>
<circle cx="205" cy="183.4" r="1.1"/>
<circle cx="184.4" cy="194.6" r="0.99"/>
<circle cx="249.4" cy="161.5" r="0.99"/>
<circle cx="250.6" cy="168.4" r="0.95"/>
<circle cx="240" cy="175.9" r="0.99"/>
<circle cx="243" cy="169" r="1.32"/>
<circle cx="319" cy="133" r="1.76"/>
<circle cx="321.5" cy="135" r="1.98"/>
<circle cx="324" cy="136.5" r="1.76"/>
<circle cx="318" cy="138" r="1.65"/>
<circle cx="326.5" cy="134" r="1.32"/>
<circle cx="322" cy="131.5" r="1.32"/>
<circle cx="341" cy="111.5" r="1.43"/>
<circle cx="344" cy="109.5" r="1.32"/>
<circle cx="339.5" cy="114" r="1.21"/>
<circle cx="291" cy="177.7" r="1.32"/>
<circle cx="296" cy="169" r="1.21"/>
<circle cx="300" cy="162.5" r="1.21"/>
<circle cx="293" cy="200" r="1.43"/>
<circle cx="294" cy="205" r="1.43"/>
<circle cx="286" cy="262" r="1.32"/>
<circle cx="288.6" cy="276.4" r="0.99"/>
<circle cx="288" cy="286" r="1.43"/>
<circle cx="290" cy="290" r="1.32"/>
<circle cx="290.1" cy="296.2" r="0.99"/>
<circle cx="312" cy="330" r="1.1"/>
<circle cx="311" cy="336" r="1.1"/>
<circle cx="313" cy="340" r="0.99"/>
<circle cx="441.5" cy="445.3" r="2.42"/>
<circle cx="427.5" cy="448.9" r="1.43"/>
<circle cx="417.2" cy="447.8" r="1.32"/>
<circle cx="423" cy="445.8" r="1.1"/>
<circle cx="406.4" cy="450.8" r="0.99"/>
<circle cx="470.5" cy="400" r="1.1"/>
<circle cx="477" cy="407" r="1.1"/>
<circle cx="489.5" cy="374.5" r="0.99"/>
<circle cx="495" cy="365.5" r="1.21"/>
<circle cx="488.5" cy="373.5" r="0.99"/>
<circle cx="491" cy="377" r="0.95"/>
<circle cx="493" cy="365" r="1.1"/>
<circle cx="504" cy="357" r="1.76"/>
<circle cx="474" cy="401" r="1.32"/>
<circle cx="476" cy="405" r="1.21"/>
</g>
<path d="M81,1046.5 H86.8 V1049 H85.5 L86.5,1052 H81 Z" fill="#000"/>
<g fill="none" stroke-linejoin="round" stroke-linecap="round">
<path d="M674.2,494.7 L673.5,494.11 L672.57,493.28 L671.4,492.3 L670.01,491.25 L668.4,490.2 L666.48,489.09 L664.24,487.87 L661.83,486.64 L659.37,485.48 L657,484.5 L654.81,483.72 L652.71,483.08 L650.57,482.54 L648.24,482.06 L645.6,481.6 L642.54,481.16 L639.17,480.75 L635.61,480.4 L632.01,480.11 L628.5,479.9 L625.21,479.81 L622.04,479.83 L618.82,479.9 L615.33,479.94 L611.4,479.9 L606.91,479.74 L601.99,479.5 L596.81,479.24 L591.52,478.99 L586.3,478.8 L580.88,478.69 L575.15,478.62 L569.5,478.58 L564.33,478.55 L560,478.5 L556.93,478.56 L554.85,478.73 L553.17,478.84 L551.29,478.72 L548.6,478.2 L544.69,477.21 L539.95,475.87 L535.02,474.28 L530.52,472.52 L527.1,470.7 L524.92,468.59 L523.56,466.14 L522.76,463.66 L522.26,461.51 L521.8,460" stroke="#808000" stroke-width="1.3"/>
<path d="M552.9,450.4 L551.6,449.68 L549.77,448.68 L547.62,447.49 L545.36,446.23 L543.2,445 L540.99,443.82 L538.58,442.62 L536.21,441.37 L534.11,440.04 L532.5,438.6 L531.55,437.04 L531.1,435.39 L530.92,433.65 L530.77,431.84 L530.4,430 L529.75,427.93 L528.97,425.62 L528.18,423.35 L527.48,421.38 L527,420" stroke="#808000" stroke-width="1.3"/>
<path d="M517.1,370.6 L516.32,370.46 L515.18,370.35 L513.86,370.18 L512.54,369.86 L511.43,369.33 L510.7,368.5 L510.4,367.25 L510.37,365.62 L510.55,363.77 L510.84,361.87 L511.15,360.06 L511.4,358.5 L511.6,357.21 L511.81,356.07 L512.06,355.03 L512.33,354.04 L512.64,353.04 L513,352 L513.42,350.86 L513.9,349.65 L514.41,348.44 L514.95,347.3 L515.48,346.29 L516,345.5 L516.51,344.92 L517.04,344.5 L517.56,344.22 L518.07,344.06 L518.56,343.99 L519,344 L519.43,344.1 L519.87,344.3 L520.28,344.59 L520.63,344.98 L520.88,345.45 L521,346 L520.99,346.68 L520.87,347.52 L520.66,348.44 L520.35,349.37 L519.96,350.25 L519.5,351 L518.92,351.63 L518.2,352.19 L517.41,352.69 L516.57,353.15 L515.76,353.58 L515,354 L514.29,354.4 L513.59,354.78 L512.91,355.12 L512.24,355.44 L511.6,355.74 L511,356 L510.41,356.24 L509.81,356.44 L509.25,356.62 L508.74,356.78 L508.31,356.9 L508,357" stroke="#808000" stroke-width="1.3"/>
<path d="M528.5,414 L528.69,413.35 L528.98,412.44 L529.31,411.38 L529.63,410.22 L529.88,409.07 L530,408 L529.93,406.97 L529.7,405.89 L529.41,404.81 L529.13,403.78 L528.96,402.83 L529,402 L529.27,401.27 L529.7,400.59 L530.25,400 L530.85,399.52 L531.45,399.18 L532,399 L532.55,399 L533.15,399.15 L533.75,399.44 L534.3,399.85 L534.73,400.38 L535,401 L535.09,401.8 L535.04,402.81 L534.88,403.94 L534.63,405.07 L534.33,406.13 L534,407 L533.53,407.69 L532.89,408.26 L532.19,408.75 L531.56,409.19 L531.12,409.59 L531,410 L531.27,410.45 L531.83,410.93 L532.59,411.38 L533.44,411.74 L534.28,411.97 L535,412 L535.66,411.81 L536.35,411.44 L537.03,410.94 L537.65,410.33 L538.15,409.67 L538.5,409 L538.67,408.27 L538.7,407.44 L538.62,406.56 L538.46,405.67 L538.25,404.8 L538,404 L537.67,403.23 L537.22,402.44 L536.72,401.69 L536.22,401 L535.8,400.42 L535.5,400" stroke="#808000" stroke-width="1.3"/>
<path d="M815.3,530.9 L812.54,530.07 L808.59,528.9 L804.16,527.51 L800,526.07 L796.23,524.55 L792.48,522.91 L788.74,521.2 L785,519.49 L781.25,517.75 L777.5,515.97 L773.75,514.21 L770,512.51 L766.25,510.83 L762.5,509.17 L758.75,507.62 L755,506.27 L751.37,505.22 L747.81,504.41 L744.1,503.64 L740,502.73 L735.35,501.62 L730.31,500.41 L725.12,499.18 L720,498.02 L715,496.85 L710,495.68 L705,494.63 L700,493.85 L695,493.49 L690,493.45 L685,493.45 L680,493.25 L675,492.88 L670,492.45 L665,491.8 L660,490.76 L655,489.25 L650,487.38 L645,485.24 L640,482.93 L635,480.31 L630,477.37 L625,474.46 L620,471.9 L615,469.74 L610,467.83 L605,466.16 L600,464.75 L595,463.69 L590,462.95 L585,462.35 L580,461.73 L574.88,460.94 L569.69,460.11 L564.65,459.47 L560,459.23 L555.9,459.6 L552.19,460.43 L548.63,461.35 L545,462.01 L541.18,462.34 L537.31,462.53 L533.54,462.6 L530,462.55 L526.58,462.34 L523.25,461.96 L520.3,461.57 L518,461.31 L516.65,460.85 L516.01,460.24 L515.62,460.17 L514.97,461.34 L513.85,464.61 L512.55,469.38 L511.34,474.15 L510.5,477.42" stroke="#6a6a6a" stroke-width="1.3"/>
<path d="M815.3,530.9 L812.54,530.08 L808.59,528.91 L804.16,527.54 L800,526.1 L796.23,524.58 L792.48,522.91 L788.74,521.19 L785,519.5 L781.25,517.84 L777.5,516.18 L773.75,514.56 L770,513.03 L766.25,511.6 L762.5,510.23 L758.75,508.96 L755,507.83 L751.37,506.93 L747.81,506.2 L744.1,505.49 L740,504.6 L735.35,503.49 L730.31,502.25 L725.12,500.94 L720,499.62 L715,498.23 L710,496.79 L705,495.36 L700,494.05 L695,492.87 L690,491.77 L685,490.76 L680,489.83 L675,489.06 L670,488.43 L665,487.79 L660,487.02 L655,486.14 L650,485.19 L645,484.1 L640,482.78 L635,481.19 L630,479.37 L625,477.41 L620,475.39 L615,473.17 L610,470.76 L605,468.46 L600,466.57 L595,465.2 L590,464.19 L585,463.41 L580,462.72 L574.88,462.13 L569.69,461.7 L564.65,461.38 L560,461.14 L555.9,461.01 L552.19,461.02 L548.63,461.03 L545,460.95 L541.18,460.74 L537.31,460.46 L533.54,460.14 L530,459.8 L526.58,459.4 L523.26,458.93 L520.31,458.52 L518,458.3 L516.52,458.35 L515.69,458.59 L515.23,458.88 L514.88,459.07" stroke="#6a6a6a" stroke-width="1.3"/>
<path d="M815.3,530.9 L812.54,530.1 L808.59,528.97 L804.16,527.64 L800,526.25 L796.23,524.77 L792.48,523.16 L788.74,521.5 L785,519.88 L781.25,518.29 L777.5,516.69 L773.75,515.14 L770,513.7 L766.25,512.34 L762.5,511.06 L758.75,509.89 L755,508.87 L751.37,508.07 L747.81,507.46 L744.1,506.89 L740,506.21 L735.35,505.4 L730.31,504.53 L725.12,503.61 L720,502.66 L715,501.67 L710,500.64 L705,499.57 L700,498.46 L695,497.32 L690,496.14 L685,494.92 L680,493.61 L675,492.24 L670,490.81 L665,489.29 L660,487.65 L655,485.87 L650,483.97 L645,482 L640,480.02 L635,477.99 L630,475.9 L625,473.84 L620,471.9 L615,469.99 L610,468.11 L605,466.46 L600,465.25 L595,464.65 L590,464.5 L585,464.57 L580,464.63 L574.88,464.64 L569.69,464.74 L564.65,464.85 L560,464.93 L555.9,464.98 L552.19,465.04 L548.63,465.05 L545,464.98 L541.18,464.82 L537.31,464.58 L533.54,464.3 L530,464.01 L526.58,463.73 L523.24,463.43 L520.29,463.11 L518,462.74 L516.55,462.72 L515.75,462.94 L515.35,462.57 L515.09,460.8 L515.03,456.58 L515.26,450.64 L515.59,444.75 L515.8,440.72" stroke="#6a6a6a" stroke-width="1.3"/>
<path d="M815.3,530.9 L812.54,530.12 L808.59,529.01 L804.16,527.71 L800,526.37 L796.23,524.96 L792.48,523.43 L788.74,521.86 L785,520.34 L781.25,518.85 L777.5,517.38 L773.75,515.94 L770,514.6 L766.25,513.33 L762.5,512.14 L758.75,511.03 L755,510.03 L751.37,509.22 L747.81,508.56 L744.1,507.91 L740,507.1 L735.35,506.11 L730.31,505.01 L725.12,503.82 L720,502.58 L715,501.26 L710,499.86 L705,498.41 L700,496.98 L695,495.55 L690,494.11 L685,492.68 L680,491.27 L675,489.89 L670,488.53 L665,487.17 L660,485.8 L655,484.39 L650,482.96 L645,481.53 L640,480.14 L635,478.75 L630,477.37 L625,476.05 L620,474.84 L615,473.7 L610,472.62 L605,471.71 L600,471.08 L595,470.87 L590,470.99 L585,471.18 L580,471.21 L574.88,471.04 L569.69,470.79 L564.65,470.46 L560,470.03 L555.9,469.5 L552.19,468.87 L548.63,468.17 L545,467.42 L541.18,466.59 L537.31,465.67 L533.54,464.75 L530,463.89 L526.58,463.09 L523.25,462.31 L520.3,461.61 L518,461.04 L516.54,460.94 L515.73,461.16 L515.3,461.06 L514.98,459.98 L514.81,457.2 L514.88,453.25 L515.05,449.34 L515.16,446.66" stroke="#6a6a6a" stroke-width="1.3"/>
<path d="M815.3,530.9 L812.54,530.14 L808.59,529.07 L804.16,527.8 L800,526.46 L796.23,525.03 L792.48,523.47 L788.74,521.84 L785,520.23 L781.25,518.62 L777.5,516.96 L773.75,515.36 L770,513.88 L766.25,512.53 L762.5,511.26 L758.75,510.13 L755,509.19 L751.37,508.54 L747.81,508.12 L744.1,507.75 L740,507.28 L735.35,506.72 L730.31,506.13 L725.12,505.43 L720,504.52 L715,503.35 L710,501.98 L705,500.46 L700,498.83 L695,497.01 L690,495 L685,492.99 L680,491.17 L675,489.52 L670,487.96 L665,486.59 L660,485.48 L655,484.72 L650,484.23 L645,483.89 L640,483.59 L635,483.41 L630,483.39 L625,483.29 L620,482.86 L615,482.07 L610,481.03 L605,479.76 L600,478.28 L595,476.55 L590,474.58 L585,472.46 L580,470.29 L574.88,467.89 L569.69,465.28 L564.65,462.84 L560,460.93 L555.9,459.71 L552.19,458.94 L548.63,458.5 L545,458.23 L541.18,458.18 L537.31,458.41 L533.54,458.77 L530,459.16 L526.59,459.63 L523.27,460.23 L520.32,460.77 L518,461.09 L516.48,461.43 L515.59,461.78 L515.07,461.6 L514.69,460.35 L514.48,457.25 L514.55,452.8 L514.71,448.37 L514.82,445.34" stroke="#6a6a6a" stroke-width="1.3"/>
<path d="M815.3,530.9 L812.54,530.15 L808.59,529.08 L804.16,527.82 L800,526.52 L796.23,525.16 L792.48,523.69 L788.74,522.17 L785,520.68 L781.25,519.21 L777.5,517.73 L773.75,516.28 L770,514.9 L766.25,513.59 L762.5,512.32 L758.75,511.14 L755,510.08 L751.37,509.21 L747.81,508.49 L744.1,507.79 L740,506.97 L735.35,506.01 L730.31,504.97 L725.12,503.88 L720,502.8 L715,501.72 L710,500.61 L705,499.51 L700,498.46 L695,497.46 L690,496.52 L685,495.58 L680,494.61 L675,493.63 L670,492.65 L665,491.62 L660,490.47 L655,489.19 L650,487.81 L645,486.34 L640,484.79 L635,483.11 L630,481.33 L625,479.51 L620,477.74 L615,475.93 L610,474.08 L605,472.37 L600,470.97 L595,470.01 L590,469.36 L585,468.85 L580,468.31 L574.88,467.7 L569.69,467.11 L564.65,466.56 L560,466.05 L555.9,465.62 L552.19,465.26 L548.63,464.91 L545,464.54 L541.18,464.13 L537.31,463.71 L533.54,463.3 L530,462.93 L526.61,462.57 L523.33,462.21 L520.39,461.93 L518,461.79 L516.28,461.86 L515.1,462.09 L514.29,462.35 L513.7,462.53" stroke="#6a6a6a" stroke-width="1.3"/>
<path d="M815.3,530.9 L812.54,530.16 L808.59,529.1 L804.16,527.86 L800,526.56 L796.23,525.19 L792.48,523.68 L788.74,522.14 L785,520.62 L781.25,519.13 L777.5,517.63 L773.75,516.17 L770,514.82 L766.25,513.58 L762.5,512.41 L758.75,511.36 L755,510.45 L751.37,509.76 L747.81,509.25 L744.1,508.78 L740,508.2 L735.35,507.5 L730.31,506.76 L725.12,505.94 L720,505.01 L715,503.95 L710,502.8 L705,501.56 L700,500.24 L695,498.83 L690,497.33 L685,495.78 L680,494.21 L675,492.62 L670,490.99 L665,489.36 L660,487.79 L655,486.24 L650,484.71 L645,483.25 L640,481.93 L635,480.74 L630,479.67 L625,478.71 L620,477.9 L615,477.22 L610,476.68 L605,476.28 L600,476.02 L595,476.04 L590,476.29 L585,476.5 L580,476.39 L574.88,475.86 L569.69,475.07 L564.65,474.1 L560,473.04 L555.9,471.85 L552.19,470.52 L548.63,469.11 L545,467.73 L541.18,466.32 L537.31,464.87 L533.54,463.48 L530,462.26 L526.57,461.19 L523.24,460.23 L520.29,459.45 L518,458.91 L516.58,458.73 L515.82,458.84 L515.44,459.04 L515.14,459.18" stroke="#6a6a6a" stroke-width="1.3"/>
<path d="M815.3,530.9 L812.54,530.18 L808.59,529.15 L804.16,527.95 L800,526.7 L796.23,525.41 L792.48,524 L788.74,522.56 L785,521.14 L781.25,519.74 L777.5,518.34 L773.75,516.96 L770,515.66 L766.25,514.41 L762.5,513.22 L758.75,512.09 L755,511.07 L751.37,510.23 L747.81,509.53 L744.1,508.84 L740,508.02 L735.35,507.04 L730.31,505.98 L725.12,504.86 L720,503.72 L715,502.55 L710,501.34 L705,500.14 L700,499 L695,497.93 L690,496.92 L685,495.93 L680,494.96 L675,494.03 L670,493.13 L665,492.22 L660,491.24 L655,490.2 L650,489.11 L645,487.97 L640,486.77 L635,485.5 L630,484.16 L625,482.8 L620,481.44 L615,480.05 L610,478.61 L605,477.26 L600,476.11 L595,475.27 L590,474.64 L585,474.08 L580,473.4 L574.88,472.56 L569.69,471.64 L564.65,470.71 L560,469.82 L555.9,468.98 L552.19,468.16 L548.63,467.37 L545,466.59 L541.18,465.8 L537.31,465.02 L533.54,464.28 L530,463.63 L526.62,463.02 L523.37,462.45 L520.43,462.02 L518,461.85 L516.16,462.06 L514.8,462.58 L513.81,463.15 L513.1,463.54" stroke="#6a6a6a" stroke-width="1.3"/>
<path d="M815.3,530.9 L812.54,530.2 L808.59,529.19 L804.16,528.02 L800,526.82 L796.23,525.59 L792.48,524.27 L788.74,522.9 L785,521.52 L781.25,520.15 L777.5,518.74 L773.75,517.34 L770,515.95 L766.25,514.56 L762.5,513.16 L758.75,511.81 L755,510.58 L751.37,509.51 L747.81,508.56 L744.1,507.66 L740,506.73 L735.35,505.72 L730.31,504.67 L725.12,503.68 L720,502.83 L715,502.14 L710,501.59 L705,501.1 L700,500.62 L695,500.23 L690,499.92 L685,499.54 L680,498.92 L675,498.05 L670,497 L665,495.75 L660,494.27 L655,492.48 L650,490.41 L645,488.24 L640,486.12 L635,484 L630,481.81 L625,479.76 L620,478.03 L615,476.61 L610,475.42 L605,474.54 L600,474.02 L595,474.09 L590,474.63 L585,475.27 L580,475.61 L574.88,475.61 L569.69,475.47 L564.65,475.13 L560,474.55 L555.9,473.68 L552.19,472.56 L548.63,471.29 L545,470 L541.18,468.65 L537.31,467.2 L533.54,465.78 L530,464.53 L526.57,463.48 L523.22,462.54 L520.26,461.74 L518,461.08 L516.64,460.58 L515.99,460.24 L515.71,460 L515.48,459.83" stroke="#6a6a6a" stroke-width="1.3"/>
<path d="M815.3,530.9 L812.54,530.2 L808.59,529.21 L804.16,528.06 L800,526.86 L796.23,525.62 L792.48,524.27 L788.74,522.89 L785,521.54 L781.25,520.23 L777.5,518.91 L773.75,517.62 L770,516.42 L766.25,515.3 L762.5,514.23 L758.75,513.24 L755,512.36 L751.37,511.63 L747.81,511.04 L744.1,510.46 L740,509.75 L735.35,508.88 L730.31,507.93 L725.12,506.9 L720,505.8 L715,504.61 L710,503.33 L705,502.01 L700,500.72 L695,499.46 L690,498.2 L685,496.96 L680,495.76 L675,494.59 L670,493.46 L665,492.34 L660,491.24 L655,490.14 L650,489.06 L645,487.99 L640,486.95 L635,485.93 L630,484.93 L625,483.97 L620,483.04 L615,482.13 L610,481.25 L605,480.43 L600,479.74 L595,479.28 L590,478.99 L585,478.67 L580,478.14 L574.88,477.33 L569.69,476.34 L564.65,475.24 L560,474.13 L555.9,472.98 L552.19,471.76 L548.63,470.53 L545,469.34 L541.18,468.15 L537.31,466.97 L533.54,465.84 L530,464.86 L526.64,463.96 L523.41,463.13 L520.48,462.5 L518,462.2 L516.02,462.41 L514.44,463.02 L513.24,463.7 L512.38,464.16" stroke="#6a6a6a" stroke-width="1.3"/>
<path d="M815.3,530.9 L812.54,530.22 L808.59,529.25 L804.16,528.12 L800,526.93 L796.23,525.69 L792.48,524.34 L788.74,522.93 L785,521.52 L781.25,520.1 L777.5,518.65 L773.75,517.2 L770,515.82 L766.25,514.47 L762.5,513.14 L758.75,511.89 L755,510.78 L751.37,509.85 L747.81,509.07 L744.1,508.34 L740,507.56 L735.35,506.69 L730.31,505.77 L725.12,504.89 L720,504.08 L715,503.36 L710,502.7 L705,502.12 L700,501.66 L695,501.37 L690,501.22 L685,501.11 L680,500.94 L675,500.76 L670,500.58 L665,500.31 L660,499.85 L655,499.19 L650,498.39 L645,497.4 L640,496.21 L635,494.79 L630,493.15 L625,491.36 L620,489.48 L615,487.42 L610,485.2 L605,482.98 L600,480.95 L595,479.16 L590,477.53 L585,475.96 L580,474.37 L574.88,472.7 L569.69,471 L564.65,469.38 L560,467.95 L555.9,466.74 L552.19,465.71 L548.63,464.79 L545,463.92 L541.18,463.09 L537.31,462.33 L533.54,461.65 L530,461.08 L526.53,460.65 L523.12,460.34 L520.16,460.08 L518,459.8 L516.96,459.45 L516.76,459.09 L516.93,458.77 L517.02,458.55" stroke="#6a6a6a" stroke-width="1.3"/>
<path d="M815.3,530.9 L812.54,530.23 L808.59,529.28 L804.16,528.17 L800,527.03 L796.23,525.86 L792.48,524.61 L788.74,523.33 L785,522.07 L781.25,520.84 L777.5,519.62 L773.75,518.42 L770,517.27 L766.25,516.17 L762.5,515.11 L758.75,514.11 L755,513.17 L751.37,512.37 L747.81,511.67 L744.1,510.96 L740,510.11 L735.35,509.08 L730.31,507.94 L725.12,506.73 L720,505.51 L715,504.25 L710,502.93 L705,501.64 L700,500.47 L695,499.44 L690,498.51 L685,497.65 L680,496.85 L675,496.15 L670,495.53 L665,494.93 L660,494.27 L655,493.57 L650,492.84 L645,492.06 L640,491.17 L635,490.16 L630,489.06 L625,487.88 L620,486.64 L615,485.27 L610,483.79 L605,482.33 L600,481 L595,479.88 L590,478.9 L585,477.94 L580,476.92 L574.88,475.78 L569.69,474.59 L564.65,473.41 L560,472.32 L555.9,471.35 L552.19,470.45 L548.63,469.61 L545,468.82 L541.18,468.07 L537.31,467.37 L533.54,466.73 L530,466.19 L526.59,465.77 L523.29,465.47 L520.34,465.19 L518,464.84 L516.41,464.34 L515.42,463.77 L514.8,463.24 L514.34,462.87" stroke="#6a6a6a" stroke-width="1.3"/>
<path d="M815.3,530.9 L812.54,530.24 L808.59,529.3 L804.16,528.2 L800,527.09 L796.23,525.94 L792.48,524.7 L788.74,523.44 L785,522.21 L781.25,521.02 L777.5,519.83 L773.75,518.67 L770,517.56 L766.25,516.5 L762.5,515.49 L758.75,514.53 L755,513.63 L751.37,512.85 L747.81,512.16 L744.1,511.44 L740,510.57 L735.35,509.49 L730.31,508.28 L725.12,507 L720,505.72 L715,504.39 L710,502.99 L705,501.65 L700,500.49 L695,499.54 L690,498.73 L685,498.04 L680,497.44 L675,496.99 L670,496.69 L665,496.39 L660,495.98 L655,495.47 L650,494.91 L645,494.23 L640,493.32 L635,492.15 L630,490.78 L625,489.24 L620,487.59 L615,485.71 L610,483.61 L605,481.55 L600,479.75 L595,478.26 L590,476.97 L585,475.84 L580,474.83 L574.88,473.96 L569.69,473.23 L564.65,472.62 L560,472.09 L555.9,471.67 L552.19,471.38 L548.63,471.13 L545,470.86 L541.18,470.56 L537.31,470.26 L533.54,469.96 L530,469.65 L526.66,469.35 L523.47,469.05 L520.55,468.72 L518,468.35 L515.83,467.87 L513.98,467.3 L512.5,466.78 L511.46,466.41" stroke="#6a6a6a" stroke-width="1.3"/>
<path d="M815.3,530.9 L812.54,530.25 L808.59,529.32 L804.16,528.25 L800,527.17 L796.23,526.07 L792.48,524.9 L788.74,523.71 L785,522.56 L781.25,521.46 L777.5,520.37 L773.75,519.32 L770,518.32 L766.25,517.38 L762.5,516.48 L758.75,515.64 L755,514.85 L751.37,514.16 L747.81,513.57 L744.1,512.95 L740,512.18 L735.35,511.24 L730.31,510.18 L725.12,509.04 L720,507.82 L715,506.51 L710,505.09 L705,503.64 L700,502.23 L695,500.88 L690,499.54 L685,498.23 L680,496.93 L675,495.67 L670,494.43 L665,493.2 L660,491.96 L655,490.7 L650,489.42 L645,488.16 L640,486.95 L635,485.76 L630,484.59 L625,483.5 L620,482.54 L615,481.7 L610,480.94 L605,480.36 L600,480.03 L595,480.09 L590,480.45 L585,480.89 L580,481.19 L574.88,481.36 L569.69,481.5 L564.65,481.5 L560,481.28 L555.9,480.78 L552.19,480.06 L548.63,479.2 L545,478.3 L541.18,477.32 L537.31,476.23 L533.54,475.11 L530,474.07 L526.69,473.04 L523.55,472.02 L520.63,471.1 L518,470.43 L515.44,470.53 L513,471.17 L511.12,471.33 L510.24,469.98 L510.92,466.07 L512.76,460.41 L514.85,454.76 L516.25,450.89" stroke="#6a6a6a" stroke-width="1.3"/>
<path d="M815.3,530.9 L812.54,530.27 L808.59,529.37 L804.16,528.32 L800,527.23 L796.23,526.1 L792.48,524.89 L788.74,523.62 L785,522.34 L781.25,521.04 L777.5,519.7 L773.75,518.36 L770,517.07 L766.25,515.79 L762.5,514.52 L758.75,513.32 L755,512.25 L751.37,511.34 L747.81,510.56 L744.1,509.83 L740,509.08 L735.35,508.27 L730.31,507.45 L725.12,506.66 L720,505.98 L715,505.4 L710,504.91 L705,504.5 L700,504.19 L695,504.05 L690,504.04 L685,504.05 L680,503.91 L675,503.68 L670,503.4 L665,502.95 L660,502.24 L655,501.24 L650,500.01 L645,498.54 L640,496.85 L635,494.86 L630,492.61 L625,490.21 L620,487.78 L615,485.22 L610,482.52 L605,479.92 L600,477.68 L595,475.88 L590,474.38 L585,473.11 L580,471.99 L574.88,471.03 L569.69,470.26 L564.65,469.65 L560,469.17 L555.9,468.85 L552.19,468.7 L548.63,468.64 L545,468.59 L541.18,468.56 L537.31,468.56 L533.54,468.59 L530,468.62 L526.68,468.61 L523.52,468.57 L520.6,468.6 L518,468.75 L515.67,469.12 L513.6,469.66 L511.91,470.19 L510.71,470.55" stroke="#6a6a6a" stroke-width="1.3"/>
<path d="M815.3,530.9 L812.54,530.28 L808.59,529.4 L804.16,528.37 L800,527.33 L796.23,526.29 L792.48,525.17 L788.74,524.03 L785,522.89 L781.25,521.77 L777.5,520.63 L773.75,519.51 L770,518.4 L766.25,517.29 L762.5,516.2 L758.75,515.13 L755,514.14 L751.37,513.26 L747.81,512.47 L744.1,511.68 L740,510.84 L735.35,509.91 L730.31,508.93 L725.12,507.96 L720,507.04 L715,506.2 L710,505.39 L705,504.63 L700,503.9 L695,503.25 L690,502.67 L685,502.06 L680,501.33 L675,500.48 L670,499.54 L665,498.52 L660,497.44 L655,496.26 L650,495 L645,493.7 L640,492.46 L635,491.27 L630,490.11 L625,488.98 L620,487.88 L615,486.83 L610,485.8 L605,484.83 L600,483.92 L595,483.13 L590,482.44 L585,481.74 L580,480.9 L574.88,479.86 L569.69,478.68 L564.65,477.49 L560,476.38 L555.9,475.37 L552.19,474.4 L548.63,473.49 L545,472.68 L541.18,471.94 L537.31,471.29 L533.54,470.72 L530,470.21 L526.67,469.79 L523.5,469.46 L520.57,469.17 L518,468.89 L515.79,468.33 L513.9,467.61 L512.33,467.27 L511.07,467.84 L510.2,469.94 L509.7,473.12 L509.42,476.34 L509.2,478.54" stroke="#6a6a6a" stroke-width="1.3"/>
<path d="M815.3,530.9 L812.54,530.3 L808.59,529.44 L804.16,528.44 L800,527.44 L796.23,526.42 L792.48,525.34 L788.74,524.23 L785,523.12 L781.25,522.01 L777.5,520.88 L773.75,519.75 L770,518.64 L766.25,517.53 L762.5,516.41 L758.75,515.33 L755,514.33 L751.37,513.43 L747.81,512.63 L744.1,511.83 L740,510.98 L735.35,510.04 L730.31,509.04 L725.12,508.05 L720,507.15 L715,506.34 L710,505.58 L705,504.89 L700,504.3 L695,503.88 L690,503.58 L685,503.3 L680,502.88 L675,502.35 L670,501.77 L665,501.05 L660,500.12 L655,498.93 L650,497.54 L645,496.01 L640,494.39 L635,492.61 L630,490.69 L625,488.76 L620,486.98 L615,485.29 L610,483.66 L605,482.23 L600,481.17 L595,480.63 L590,480.48 L585,480.5 L580,480.48 L574.88,480.46 L569.69,480.52 L564.65,480.51 L560,480.29 L555.9,479.82 L552.19,479.17 L548.63,478.4 L545,477.57 L541.18,476.64 L537.31,475.6 L533.54,474.55 L530,473.56 L526.69,472.54 L523.56,471.5 L520.64,470.63 L518,470.13 L515.37,470.59 L512.81,471.74 L510.87,472.43 L510.09,471.54 L511.1,467.98 L513.45,462.63 L516.05,457.24 L517.8,453.55" stroke="#6a6a6a" stroke-width="1.3"/>
<path d="M815.3,530.9 L812.54,530.3 L808.59,529.45 L804.16,528.46 L800,527.46 L796.23,526.44 L792.48,525.35 L788.74,524.23 L785,523.12 L781.25,522.01 L777.5,520.89 L773.75,519.78 L770,518.71 L766.25,517.67 L762.5,516.65 L758.75,515.67 L755,514.78 L751.37,514 L747.81,513.32 L744.1,512.65 L740,511.91 L735.35,511.07 L730.31,510.16 L725.12,509.24 L720,508.35 L715,507.46 L710,506.57 L705,505.72 L700,504.95 L695,504.31 L690,503.77 L685,503.25 L680,502.67 L675,502.04 L670,501.4 L665,500.68 L660,499.82 L655,498.8 L650,497.65 L645,496.4 L640,495.05 L635,493.57 L630,491.96 L625,490.32 L620,488.72 L615,487.13 L610,485.5 L605,484 L600,482.78 L595,481.93 L590,481.35 L585,480.91 L580,480.46 L574.88,480.02 L569.69,479.65 L564.65,479.27 L560,478.81 L555.9,478.24 L552.19,477.62 L548.63,476.96 L545,476.28 L541.18,475.58 L537.31,474.84 L533.54,474.12 L530,473.44 L526.68,472.78 L523.51,472.12 L520.59,471.56 L518,471.18 L515.54,471.52 L513.23,472.36 L511.51,472.65 L510.83,471.3 L511.74,467.2 L513.88,461.18 L516.23,455.16 L517.82,451.05" stroke="#6a6a6a" stroke-width="1.3"/>
<path d="M815.3,530.9 L812.54,530.31 L808.59,529.47 L804.16,528.49 L800,527.51 L796.23,526.52 L792.48,525.45 L788.74,524.38 L785,523.33 L781.25,522.3 L777.5,521.29 L773.75,520.3 L770,519.37 L766.25,518.5 L762.5,517.67 L758.75,516.9 L755,516.18 L751.37,515.57 L747.81,515.05 L744.1,514.53 L740,513.91 L735.35,513.19 L730.31,512.41 L725.12,511.58 L720,510.7 L715,509.75 L710,508.74 L705,507.7 L700,506.7 L695,505.75 L690,504.84 L685,503.9 L680,502.9 L675,501.84 L670,500.74 L665,499.57 L660,498.32 L655,496.95 L650,495.48 L645,493.96 L640,492.43 L635,490.86 L630,489.22 L625,487.63 L620,486.17 L615,484.8 L610,483.5 L605,482.38 L600,481.59 L595,481.24 L590,481.23 L585,481.37 L580,481.49 L574.88,481.62 L569.69,481.83 L564.65,481.98 L560,481.94 L555.9,481.66 L552.19,481.22 L548.63,480.67 L545,480.07 L541.18,479.42 L537.31,478.68 L533.54,477.92 L530,477.18 L526.72,476.48 L523.64,475.77 L520.73,475.1 L518,474.49 L515.29,473.93 L512.65,473.4 L510.39,472.95 L508.81,472.64" stroke="#6a6a6a" stroke-width="1.3"/>
<path d="M815.3,530.9 L812.54,530.33 L808.59,529.5 L804.16,528.56 L800,527.61 L796.23,526.66 L792.48,525.66 L788.74,524.64 L785,523.63 L781.25,522.65 L777.5,521.66 L773.75,520.69 L770,519.74 L766.25,518.81 L762.5,517.9 L758.75,517.02 L755,516.17 L751.37,515.39 L747.81,514.68 L744.1,513.94 L740,513.09 L735.35,512.09 L730.31,510.98 L725.12,509.83 L720,508.73 L715,507.63 L710,506.51 L705,505.46 L700,504.59 L695,503.95 L690,503.47 L685,503.07 L680,502.68 L675,502.32 L670,502.03 L665,501.69 L660,501.19 L655,500.52 L650,499.74 L645,498.82 L640,497.74 L635,496.43 L630,494.94 L625,493.35 L620,491.76 L615,490.08 L610,488.31 L605,486.63 L600,485.23 L595,484.2 L590,483.41 L585,482.78 L580,482.2 L574.88,481.7 L569.69,481.32 L564.65,480.96 L560,480.51 L555.9,479.96 L552.19,479.34 L548.63,478.69 L545,478.02 L541.18,477.3 L537.31,476.53 L533.54,475.76 L530,475.03 L526.69,474.3 L523.55,473.56 L520.63,472.92 L518,472.46 L515.51,472.43 L513.19,472.71 L511.34,472.85 L510.25,472.39 L510.31,470.92 L511.25,468.78 L512.44,466.64 L513.22,465.18" stroke="#6a6a6a" stroke-width="1.3"/>
<path d="M815.3,530.9 L812.54,530.33 L808.59,529.52 L804.16,528.58 L800,527.63 L796.23,526.65 L792.48,525.59 L788.74,524.52 L785,523.48 L781.25,522.46 L777.5,521.45 L773.75,520.48 L770,519.59 L766.25,518.81 L762.5,518.1 L758.75,517.47 L755,516.88 L751.37,516.42 L747.81,516.06 L744.1,515.67 L740,515.11 L735.35,514.36 L730.31,513.5 L725.12,512.49 L720,511.3 L715,509.84 L710,508.15 L705,506.42 L700,504.83 L695,503.37 L690,501.95 L685,500.69 L680,499.71 L675,499.07 L670,498.7 L665,498.52 L660,498.45 L655,498.59 L650,498.95 L645,499.27 L640,499.31 L635,499.05 L630,498.61 L625,497.92 L620,496.94 L615,495.58 L610,493.9 L605,492.02 L600,490.07 L595,487.96 L590,485.65 L585,483.38 L580,481.38 L574.88,479.66 L569.69,478.11 L564.65,476.8 L560,475.79 L555.9,475.17 L552.19,474.88 L548.63,474.77 L545,474.72 L541.18,474.75 L537.31,474.91 L533.54,475.1 L530,475.23 L526.69,475.23 L523.54,475.17 L520.63,475.13 L518,475.19 L515.64,474.95 L513.53,474.5 L511.73,474.69 L510.31,476.36 L509.37,480.59 L508.85,486.64 L508.56,492.66 L508.35,496.78" stroke="#6a6a6a" stroke-width="1.3"/>
<path d="M815.3,530.9 L812.54,530.35 L808.59,529.57 L804.16,528.67 L800,527.74 L796.23,526.8 L792.48,525.8 L788.74,524.76 L785,523.7 L781.25,522.6 L777.5,521.46 L773.75,520.32 L770,519.24 L766.25,518.18 L762.5,517.14 L758.75,516.17 L755,515.33 L751.37,514.65 L747.81,514.11 L744.1,513.64 L740,513.19 L735.35,512.81 L730.31,512.5 L725.12,512.16 L720,511.7 L715,511.05 L710,510.28 L705,509.47 L700,508.7 L695,508.08 L690,507.53 L685,506.87 L680,505.91 L675,504.54 L670,502.87 L665,501.08 L660,499.33 L655,497.55 L650,495.71 L645,493.96 L640,492.47 L635,491.25 L630,490.21 L625,489.41 L620,488.88 L615,488.75 L610,488.95 L605,489.27 L600,489.49 L595,489.65 L590,489.83 L585,489.91 L580,489.77 L574.88,489.46 L569.69,489.01 L564.65,488.32 L560,487.3 L555.9,485.83 L552.19,483.99 L548.63,481.99 L545,480.03 L541.18,478.05 L537.31,475.98 L533.54,474.01 L530,472.3 L526.7,470.87 L523.57,469.64 L520.65,468.66 L518,468 L515.52,467.8 L513.22,467.98 L511.3,468.3 L509.94,468.5" stroke="#6a6a6a" stroke-width="1.3"/>
<path d="M815.3,530.9 L812.54,530.35 L808.59,529.57 L804.16,528.67 L800,527.8 L796.23,526.95 L792.48,526.06 L788.74,525.18 L785,524.31 L781.25,523.5 L777.5,522.71 L773.75,521.92 L770,521.09 L766.25,520.22 L762.5,519.32 L758.75,518.39 L755,517.43 L751.37,516.44 L747.81,515.42 L744.1,514.36 L740,513.26 L735.35,512.02 L730.31,510.67 L725.12,509.41 L720,508.43 L715,507.83 L710,507.48 L705,507.27 L700,507.09 L695,507.01 L690,507.07 L685,507.06 L680,506.81 L675,506.32 L670,505.68 L665,504.79 L660,503.53 L655,501.69 L650,499.39 L645,497.04 L640,495.05 L635,493.43 L630,492 L625,490.86 L620,490.13 L615,490.03 L610,490.42 L605,490.93 L600,491.16 L595,491.1 L590,490.93 L585,490.53 L580,489.77 L574.88,488.57 L569.69,487.01 L564.65,485.24 L560,483.43 L555.9,481.47 L552.19,479.33 L548.63,477.28 L545,475.58 L541.18,474.3 L537.31,473.31 L533.54,472.56 L530,472.01 L526.69,471.72 L523.55,471.68 L520.64,471.8 L518,471.99 L515.57,471.99 L513.34,471.93 L511.48,472.28 L510.16,473.51 L509.57,476.26 L509.58,480.13 L509.84,483.94 L509.98,486.56" stroke="#6a6a6a" stroke-width="1.3"/>
<path d="M815.3,530.9 L812.54,530.37 L808.59,529.61 L804.16,528.74 L800,527.86 L796.23,527 L792.48,526.09 L788.74,525.17 L785,524.24 L781.25,523.3 L777.5,522.36 L773.75,521.41 L770,520.49 L766.25,519.57 L762.5,518.66 L758.75,517.77 L755,516.94 L751.37,516.2 L747.81,515.52 L744.1,514.85 L740,514.12 L735.35,513.32 L730.31,512.47 L725.12,511.61 L720,510.78 L715,509.96 L710,509.14 L705,508.36 L700,507.67 L695,507.1 L690,506.64 L685,506.18 L680,505.63 L675,505 L670,504.33 L665,503.58 L660,502.72 L655,501.71 L650,500.58 L645,499.37 L640,498.15 L635,496.86 L630,495.51 L625,494.17 L620,492.93 L615,491.78 L610,490.68 L605,489.7 L600,488.92 L595,488.44 L590,488.2 L585,488.02 L580,487.71 L574.88,487.3 L569.69,486.84 L564.65,486.29 L560,485.56 L555.9,484.6 L552.19,483.46 L548.63,482.23 L545,481.03 L541.18,479.82 L537.31,478.57 L533.54,477.36 L530,476.26 L526.71,475.26 L523.61,474.32 L520.7,473.53 L518,472.97 L515.37,472.72 L512.86,472.72 L510.72,472.83 L509.21,472.89" stroke="#6a6a6a" stroke-width="1.3"/>
<path d="M815.3,530.9 L812.54,530.39 L808.59,529.66 L804.16,528.82 L800,527.99 L796.23,527.19 L792.48,526.35 L788.74,525.49 L785,524.61 L781.25,523.71 L777.5,522.79 L773.75,521.84 L770,520.88 L766.25,519.87 L762.5,518.84 L758.75,517.8 L755,516.79 L751.37,515.84 L747.81,514.93 L744.1,514 L740,513.01 L735.35,511.9 L730.31,510.7 L725.12,509.54 L720,508.5 L715,507.58 L710,506.73 L705,506.04 L700,505.6 L695,505.55 L690,505.81 L685,506.13 L680,506.23 L675,506.09 L670,505.82 L665,505.43 L660,504.92 L655,504.27 L650,503.48 L645,502.59 L640,501.63 L635,500.58 L630,499.44 L625,498.23 L620,496.94 L615,495.58 L610,494.16 L605,492.65 L600,491.05 L595,489.27 L590,487.35 L585,485.44 L580,483.7 L574.88,482.13 L569.69,480.66 L564.65,479.32 L560,478.14 L555.9,477.13 L552.19,476.27 L548.63,475.54 L545,474.9 L541.18,474.34 L537.31,473.9 L533.54,473.54 L530,473.24 L526.71,473.06 L523.59,473 L520.68,472.93 L518,472.73 L515.43,472.29 L513.01,471.72 L510.97,471.16 L509.53,470.77" stroke="#6a6a6a" stroke-width="1.3"/>
<path d="M815.3,530.9 L812.54,530.38 L808.59,529.65 L804.16,528.8 L800,527.93 L796.23,527.06 L792.48,526.12 L788.74,525.16 L785,524.23 L781.25,523.3 L777.5,522.36 L773.75,521.46 L770,520.65 L766.25,519.96 L762.5,519.36 L758.75,518.8 L755,518.23 L751.37,517.68 L747.81,517.16 L744.1,516.6 L740,515.93 L735.35,515.13 L730.31,514.23 L725.12,513.28 L720,512.32 L715,511.4 L710,510.48 L705,509.49 L700,508.35 L695,506.92 L690,505.27 L685,503.66 L680,502.32 L675,501.26 L670,500.37 L665,499.69 L660,499.26 L655,499.24 L650,499.56 L645,499.88 L640,499.87 L635,499.43 L630,498.74 L625,497.88 L620,496.94 L615,495.85 L610,494.61 L605,493.36 L600,492.25 L595,491.48 L590,490.92 L585,490.23 L580,489.05 L574.88,487.09 L569.69,484.61 L564.65,482.08 L560,480 L555.9,478.46 L552.19,477.22 L548.63,476.24 L545,475.46 L541.18,474.94 L537.31,474.68 L533.54,474.57 L530,474.53 L526.69,474.58 L523.54,474.76 L520.62,474.97 L518,475.09 L515.63,474.86 L513.5,474.43 L511.71,474.27 L510.38,474.85 L509.64,476.7 L509.4,479.43 L509.4,482.16 L509.38,484.03" stroke="#6a6a6a" stroke-width="1.3"/>
<path d="M815.3,530.9 L812.54,530.39 L808.59,529.66 L804.16,528.84 L800,528.06 L796.23,527.33 L792.48,526.6 L788.74,525.85 L785,525.09 L781.25,524.3 L777.5,523.49 L773.75,522.68 L770,521.88 L766.25,521.1 L762.5,520.32 L758.75,519.56 L755,518.83 L751.37,518.17 L747.81,517.56 L744.1,516.93 L740,516.23 L735.35,515.4 L730.31,514.48 L725.12,513.57 L720,512.77 L715,512.03 L710,511.34 L705,510.8 L700,510.56 L695,510.76 L690,511.3 L685,511.91 L680,512.33 L675,512.6 L670,512.81 L665,512.83 L660,512.49 L655,511.77 L650,510.73 L645,509.43 L640,507.89 L635,505.92 L630,503.56 L625,501.24 L620,499.35 L615,498.08 L610,497.2 L605,496.46 L600,495.65 L595,494.73 L590,493.81 L585,492.89 L580,491.98 L574.88,490.99 L569.69,489.96 L564.65,489.02 L560,488.3 L555.9,487.82 L552.19,487.51 L548.63,487.38 L545,487.41 L541.18,487.68 L537.31,488.16 L533.54,488.73 L530,489.26 L526.75,489.76 L523.71,490.28 L520.82,490.76 L518,491.12 L515.06,491.04 L512.1,490.67 L509.49,490.61 L507.62,491.45 L506.77,493.83 L506.66,497.28 L506.88,500.71 L507,503.06" stroke="#6a6a6a" stroke-width="1.3"/>
<path d="M815.3,530.9 L812.54,530.39 L808.59,529.65 L804.16,528.82 L800,528.04 L796.23,527.33 L792.48,526.61 L788.74,525.9 L785,525.21 L781.25,524.57 L777.5,523.94 L773.75,523.33 L770,522.73 L766.25,522.15 L762.5,521.6 L758.75,521.03 L755,520.41 L751.37,519.77 L747.81,519.12 L744.1,518.39 L740,517.53 L735.35,516.44 L730.31,515.18 L725.12,513.91 L720,512.77 L715,511.71 L710,510.69 L705,509.84 L700,509.3 L695,509.12 L690,509.23 L685,509.57 L680,510.06 L675,510.96 L670,512.21 L665,513.29 L660,513.71 L655,513.31 L650,512.37 L645,511.01 L640,509.33 L635,507.08 L630,504.3 L625,501.54 L620,499.35 L615,497.95 L610,497.03 L605,496.34 L600,495.65 L595,494.74 L590,493.78 L585,493.15 L580,493.23 L574.88,494.5 L569.69,496.62 L564.65,498.77 L560,500.08 L555.9,500.43 L552.19,500.24 L548.63,499.5 L545,498.19 L541.18,496.12 L537.31,493.35 L533.54,490.29 L530,487.33 L526.71,484.31 L523.59,481.11 L520.68,478.2 L518,476.05 L515.44,474.94 L513.03,474.57 L511,474.55 L509.56,474.5" stroke="#6a6a6a" stroke-width="1.3"/>
<path d="M815.3,530.9 L812.54,530.43 L808.59,529.75 L804.16,528.99 L800,528.26 L796.23,527.58 L792.48,526.9 L788.74,526.21 L785,525.5 L781.25,524.78 L777.5,524.03 L773.75,523.28 L770,522.54 L766.25,521.79 L762.5,521.03 L758.75,520.3 L755,519.61 L751.37,518.99 L747.81,518.4 L744.1,517.86 L740,517.34 L735.35,516.84 L730.31,516.36 L725.12,515.93 L720,515.55 L715,515.25 L710,515.02 L705,514.8 L700,514.55 L695,514.3 L690,514.08 L685,513.76 L680,513.21 L675,512.35 L670,511.28 L665,510.08 L660,508.87 L655,507.58 L650,506.18 L645,504.84 L640,503.75 L635,502.92 L630,502.27 L625,501.82 L620,501.6 L615,501.69 L610,502.07 L605,502.54 L600,502.91 L595,503.27 L590,503.68 L585,503.9 L580,503.71 L574.88,503.04 L569.69,502.03 L564.65,500.71 L560,499.14 L555.9,497.25 L552.19,495.05 L548.63,492.68 L545,490.32 L541.18,487.81 L537.31,485.14 L533.54,482.64 L530,480.62 L526.69,479.18 L523.56,478.14 L520.64,477.43 L518,476.98 L515.55,476.9 L513.29,477.19 L511.4,477.59 L510.07,477.85" stroke="#6a6a6a" stroke-width="1.3"/>
<path d="M815.3,530.9 L812.54,530.44 L808.59,529.78 L804.16,529.04 L800,528.33 L796.23,527.69 L792.48,527.04 L788.74,526.38 L785,525.72 L781.25,525.05 L777.5,524.37 L773.75,523.68 L770,523 L766.25,522.31 L762.5,521.61 L758.75,520.93 L755,520.26 L751.37,519.63 L747.81,519.03 L744.1,518.44 L740,517.81 L735.35,517.12 L730.31,516.39 L725.12,515.68 L720,515.08 L715,514.56 L710,514.11 L705,513.76 L700,513.54 L695,513.56 L690,513.75 L685,513.96 L680,513.99 L675,513.84 L670,513.6 L665,513.21 L660,512.61 L655,511.73 L650,510.63 L645,509.4 L640,508.16 L635,506.84 L630,505.41 L625,504.04 L620,502.89 L615,501.96 L610,501.19 L605,500.59 L600,500.18 L595,500.03 L590,500.11 L585,500.28 L580,500.42 L574.88,500.58 L569.69,500.81 L564.65,500.93 L560,500.78 L555.9,500.29 L552.19,499.57 L548.63,498.65 L545,497.58 L541.18,496.26 L537.31,494.7 L533.54,493.11 L530,491.66 L526.74,490.31 L523.68,488.98 L520.78,487.86 L518,487.12 L515.11,487.33 L512.2,488.21 L509.73,488.73 L508.16,487.84 L507.87,484.59 L508.55,479.75 L509.53,474.9 L510.17,471.58" stroke="#6a6a6a" stroke-width="1.3"/>
<path d="M815.3,530.9 L812.54,530.46 L808.59,529.82 L804.16,529.11 L800,528.42 L796.23,527.78 L792.48,527.14 L788.74,526.5 L785,525.84 L781.25,525.17 L777.5,524.48 L773.75,523.8 L770,523.13 L766.25,522.47 L762.5,521.82 L758.75,521.2 L755,520.64 L751.37,520.14 L747.81,519.71 L744.1,519.29 L740,518.88 L735.35,518.47 L730.31,518.08 L725.12,517.69 L720,517.25 L715,516.77 L710,516.26 L705,515.73 L700,515.19 L695,514.66 L690,514.11 L685,513.55 L680,512.94 L675,512.24 L670,511.49 L665,510.75 L660,510.12 L655,509.62 L650,509.19 L645,508.85 L640,508.6 L635,508.49 L630,508.51 L625,508.55 L620,508.49 L615,508.38 L610,508.25 L605,507.99 L600,507.5 L595,506.75 L590,505.8 L585,504.68 L580,503.4 L574.88,501.89 L569.69,500.17 L564.65,498.4 L560,496.75 L555.9,495.2 L552.19,493.69 L548.63,492.31 L545,491.16 L541.18,490.22 L537.31,489.47 L533.54,488.96 L530,488.75 L526.72,488.99 L523.63,489.6 L520.73,490.32 L518,490.89 L515.26,491.66 L512.59,492.62 L510.33,493.02 L508.86,492.08 L508.51,488.89 L509.01,484.11 L509.8,479.29 L510.31,476" stroke="#6a6a6a" stroke-width="1.3"/>
<path d="M815.3,530.9 L812.54,530.49 L808.59,529.89 L804.16,529.22 L800,528.59 L796.23,528.02 L792.48,527.45 L788.74,526.88 L785,526.3 L781.25,525.71 L777.5,525.11 L773.75,524.51 L770,523.9 L766.25,523.29 L762.5,522.68 L758.75,522.06 L755,521.45 L751.37,520.88 L747.81,520.32 L744.1,519.73 L740,519.06 L735.35,518.25 L730.31,517.35 L725.12,516.43 L720,515.57 L715,514.7 L710,513.82 L705,513.07 L700,512.6 L695,512.48 L690,512.63 L685,512.94 L680,513.31 L675,513.79 L670,514.41 L665,515.04 L660,515.57 L655,516.02 L650,516.43 L645,516.72 L640,516.82 L635,516.71 L630,516.42 L625,515.97 L620,515.38 L615,514.63 L610,513.72 L605,512.68 L600,511.56 L595,510.36 L590,509.05 L585,507.65 L580,506.16 L574.88,504.53 L569.69,502.78 L564.65,500.99 L560,499.24 L555.9,497.51 L552.19,495.77 L548.63,494.08 L545,492.46 L541.18,490.86 L537.31,489.26 L533.54,487.85 L530,486.77 L526.74,486.15 L523.67,485.87 L520.77,485.76 L518,485.67 L515.23,485.23 L512.53,484.64 L510.13,484.54 L508.28,485.57 L507.16,488.52 L506.59,492.84 L506.33,497.17 L506.12,500.12" stroke="#6a6a6a" stroke-width="1.3"/>
<path d="M815.3,530.9 L812.54,530.49 L808.59,529.91 L804.16,529.25 L800,528.62 L796.23,528.03 L792.48,527.42 L788.74,526.81 L785,526.2 L781.25,525.57 L777.5,524.93 L773.75,524.31 L770,523.73 L766.25,523.2 L762.5,522.69 L758.75,522.24 L755,521.86 L751.37,521.59 L747.81,521.42 L744.1,521.25 L740,521.01 L735.35,520.74 L730.31,520.46 L725.12,520.07 L720,519.48 L715,518.57 L710,517.42 L705,516.23 L700,515.2 L695,514.28 L690,513.41 L685,512.73 L680,512.39 L675,512.48 L670,512.91 L665,513.53 L660,514.18 L655,515.01 L650,516.04 L645,516.93 L640,517.33 L635,517.18 L630,516.66 L625,515.77 L620,514.54 L615,512.79 L610,510.55 L605,508.23 L600,506.21 L595,504.43 L590,502.73 L585,501.38 L580,500.63 L574.88,500.69 L569.69,501.39 L564.65,502.37 L560,503.29 L555.9,504.19 L552.19,505.22 L548.63,506.17 L545,506.83 L541.18,507.19 L537.31,507.33 L533.54,507.23 L530,506.88 L526.77,506.06 L523.76,504.87 L520.88,503.68 L518,502.86 L514.83,502.75 L511.51,503.07 L508.63,503.29 L506.77,502.86 L506.37,501.36 L507.03,499.16 L508.03,496.97 L508.69,495.47" stroke="#6a6a6a" stroke-width="1.3"/>
<path d="M815.3,530.9 L812.54,530.51 L808.59,529.95 L804.16,529.33 L800,528.74 L796.23,528.2 L792.48,527.67 L788.74,527.13 L785,526.62 L781.25,526.11 L777.5,525.61 L773.75,525.13 L770,524.68 L766.25,524.25 L762.5,523.85 L758.75,523.47 L755,523.11 L751.37,522.79 L747.81,522.52 L744.1,522.21 L740,521.78 L735.35,521.2 L730.31,520.51 L725.12,519.75 L720,518.94 L715,517.97 L710,516.88 L705,515.87 L700,515.14 L695,514.75 L690,514.59 L685,514.63 L680,514.83 L675,515.27 L670,515.94 L665,516.68 L660,517.32 L655,517.93 L650,518.56 L645,519.04 L640,519.2 L635,519 L630,518.54 L625,517.83 L620,516.9 L615,515.67 L610,514.15 L605,512.51 L600,510.93 L595,509.34 L590,507.7 L585,506.16 L580,504.89 L574.88,503.93 L569.69,503.18 L564.65,502.64 L560,502.28 L555.9,502.13 L552.19,502.18 L548.63,502.41 L545,502.78 L541.18,503.34 L537.31,504.09 L533.54,504.93 L530,505.75 L526.86,506.6 L524.01,507.5 L521.15,508.37 L518,509.09 L514.09,509.66 L509.69,510.12 L505.68,510.47 L502.89,510.73" stroke="#6a6a6a" stroke-width="1.3"/>
<path d="M815.3,530.9 L812.54,530.54 L808.59,530.02 L804.16,529.44 L800,528.9 L796.23,528.43 L792.48,527.97 L788.74,527.51 L785,527.07 L781.25,526.64 L777.5,526.21 L773.75,525.8 L770,525.38 L766.25,524.97 L762.5,524.57 L758.75,524.17 L755,523.75 L751.37,523.35 L747.81,522.96 L744.1,522.51 L740,521.92 L735.35,521.12 L730.31,520.17 L725.12,519.16 L720,518.18 L715,517.12 L710,515.97 L705,514.99 L700,514.41 L695,514.31 L690,514.57 L685,515.09 L680,515.79 L675,516.77 L670,518.04 L665,519.36 L660,520.52 L655,521.58 L650,522.61 L645,523.42 L640,523.82 L635,523.76 L630,523.35 L625,522.61 L620,521.55 L615,520.11 L610,518.29 L605,516.28 L600,514.25 L595,512.15 L590,509.9 L585,507.7 L580,505.76 L574.88,504.07 L569.69,502.53 L564.65,501.23 L560,500.26 L555.9,499.61 L552.19,499.26 L548.63,499.21 L545,499.47 L541.18,500.11 L537.31,501.08 L533.54,502.3 L530,503.64 L526.87,505.3 L524.03,507.26 L521.18,509.1 L518,510.43 L514,511.03 L509.47,511.15 L505.32,511.07 L502.44,511.03" stroke="#6a6a6a" stroke-width="1.3"/>
<path d="M815.3,530.9 L812.54,530.56 L808.59,530.06 L804.16,529.51 L800,528.97 L796.23,528.48 L792.48,527.98 L788.74,527.48 L785,526.96 L781.25,526.43 L777.5,525.88 L773.75,525.33 L770,524.8 L766.25,524.27 L762.5,523.75 L758.75,523.25 L755,522.8 L751.37,522.4 L747.81,522.05 L744.1,521.74 L740,521.44 L735.35,521.14 L730.31,520.85 L725.12,520.61 L720,520.46 L715,520.38 L710,520.37 L705,520.47 L700,520.73 L695,521.26 L690,521.99 L685,522.75 L680,523.37 L675,523.87 L670,524.33 L665,524.63 L660,524.65 L655,524.38 L650,523.87 L645,523.14 L640,522.21 L635,521.02 L630,519.57 L625,518.01 L620,516.48 L615,514.93 L610,513.33 L605,511.78 L600,510.41 L595,509.22 L590,508.17 L585,507.28 L580,506.58 L574.88,506.11 L569.69,505.84 L564.65,505.73 L560,505.69 L555.9,505.73 L552.19,505.87 L548.63,506.13 L545,506.53 L541.18,507.11 L537.31,507.83 L533.54,508.66 L530,509.56 L526.87,510.61 L524.03,511.8 L521.18,512.95 L518,513.87 L514.01,514.5 L509.5,514.94 L505.37,515.25 L502.5,515.47" stroke="#6a6a6a" stroke-width="1.3"/>
<path d="M815.3,530.9 L812.54,530.57 L808.59,530.09 L804.16,529.56 L800,529.05 L796.23,528.58 L792.48,528.12 L788.74,527.65 L785,527.2 L781.25,526.75 L777.5,526.3 L773.75,525.88 L770,525.49 L766.25,525.14 L762.5,524.83 L758.75,524.55 L755,524.29 L751.37,524.1 L747.81,523.97 L744.1,523.81 L740,523.54 L735.35,523.14 L730.31,522.64 L725.12,522.07 L720,521.45 L715,520.65 L710,519.71 L705,518.87 L700,518.36 L695,518.27 L690,518.47 L685,518.87 L680,519.4 L675,520.19 L670,521.22 L665,522.24 L660,522.97 L655,523.45 L650,523.78 L645,523.83 L640,523.5 L635,522.65 L630,521.36 L625,519.89 L620,518.47 L615,517 L610,515.41 L605,513.97 L600,512.98 L595,512.51 L590,512.42 L585,512.62 L580,513.04 L574.88,513.81 L569.69,514.93 L564.65,516.09 L560,516.99 L555.9,517.62 L552.19,518.12 L548.63,518.42 L545,518.42 L541.18,518.04 L537.31,517.34 L533.54,516.48 L530,515.58 L526.88,514.51 L524.06,513.26 L521.2,512.14 L518,511.47 L514.01,511.2 L509.52,511.21 L505.3,511.7 L502.11,512.9 L500.29,515.33 L499.39,518.72 L498.98,522.07 L498.65,524.37" stroke="#6a6a6a" stroke-width="1.3"/>
<path d="M815.3,530.9 L812.54,530.58 L808.59,530.13 L804.16,529.62 L800,529.15 L796.23,528.71 L792.48,528.28 L788.74,527.86 L785,527.44 L781.25,527.03 L777.5,526.63 L773.75,526.24 L770,525.88 L766.25,525.55 L762.5,525.24 L758.75,524.96 L755,524.69 L751.37,524.47 L747.81,524.29 L744.1,524.08 L740,523.78 L735.35,523.35 L730.31,522.83 L725.12,522.27 L720,521.71 L715,521.07 L710,520.34 L705,519.75 L700,519.47 L695,519.62 L690,520.07 L685,520.69 L680,521.33 L675,522.1 L670,523.02 L665,523.86 L660,524.42 L655,524.65 L650,524.68 L645,524.47 L640,523.98 L635,523.08 L630,521.84 L625,520.48 L620,519.24 L615,518.06 L610,516.84 L605,515.8 L600,515.13 L595,514.93 L590,515.08 L585,515.45 L580,515.93 L574.88,516.59 L569.69,517.46 L564.65,518.33 L560,518.99 L555.9,519.42 L552.19,519.71 L548.63,519.83 L545,519.73 L541.18,519.32 L537.31,518.66 L533.54,517.88 L530,517.12 L526.9,516.31 L524.11,515.42 L521.27,514.6 L518,514.01 L513.74,513.73 L508.85,513.67 L504.33,513.71 L501.2,513.72" stroke="#6a6a6a" stroke-width="1.3"/>
<path d="M815.3,530.9 L812.54,530.61 L808.59,530.2 L804.16,529.74 L800,529.32 L796.23,528.95 L792.48,528.6 L788.74,528.25 L785,527.89 L781.25,527.52 L777.5,527.15 L773.75,526.77 L770,526.37 L766.25,525.96 L762.5,525.52 L758.75,525.09 L755,524.68 L751.37,524.29 L747.81,523.91 L744.1,523.55 L740,523.26 L735.35,523 L730.31,522.78 L725.12,522.63 L720,522.64 L715,522.84 L710,523.19 L705,523.61 L700,524 L695,524.43 L690,524.94 L685,525.31 L680,525.38 L675,525 L670,524.3 L665,523.49 L660,522.76 L655,522.04 L650,521.28 L645,520.67 L640,520.39 L635,520.58 L630,521.1 L625,521.77 L620,522.41 L615,523.1 L610,523.9 L605,524.56 L600,524.8 L595,524.57 L590,524.01 L585,523.15 L580,522.03 L574.88,520.44 L569.69,518.44 L564.65,516.47 L560,514.95 L555.9,513.94 L552.19,513.22 L548.63,512.86 L545,512.91 L541.18,513.47 L537.31,514.48 L533.54,515.76 L530,517.13 L526.98,518.73 L524.31,520.61 L521.49,522.4 L518,523.76 L513.09,524.55 L507.24,524.97 L501.77,525.19 L497.98,525.36" stroke="#6a6a6a" stroke-width="1.3"/>
<path d="M815.3,530.9 L812.54,530.62 L808.59,530.22 L804.16,529.77 L800,529.35 L796.23,528.97 L792.48,528.59 L788.74,528.22 L785,527.87 L781.25,527.52 L777.5,527.18 L773.75,526.87 L770,526.6 L766.25,526.37 L762.5,526.18 L758.75,526.03 L755,525.9 L751.37,525.85 L747.81,525.85 L744.1,525.83 L740,525.71 L735.35,525.46 L730.31,525.14 L725.12,524.73 L720,524.2 L715,523.44 L710,522.49 L705,521.59 L700,520.99 L695,520.71 L690,520.64 L685,520.8 L680,521.19 L675,521.94 L670,522.99 L665,524.13 L660,525.16 L655,526.12 L650,527.1 L645,527.9 L640,528.35 L635,528.38 L630,528.08 L625,527.55 L620,526.85 L615,525.95 L610,524.82 L605,523.57 L600,522.28 L595,520.85 L590,519.25 L585,517.78 L580,516.68 L574.88,516 L569.69,515.62 L564.65,515.53 L560,515.75 L555.9,516.34 L552.19,517.28 L548.63,518.44 L545,519.74 L541.18,521.32 L537.31,523.18 L533.54,524.97 L530,526.36 L527.02,527.21 L524.42,527.71 L521.61,528.03 L518,528.35 L512.76,528.7 L506.43,528.99 L500.47,529.22 L496.36,529.39" stroke="#6a6a6a" stroke-width="1.3"/>
<path d="M815.3,530.9 L812.54,530.65 L808.59,530.29 L804.16,529.89 L800,529.52 L796.23,529.2 L792.48,528.89 L788.74,528.59 L785,528.29 L781.25,527.98 L777.5,527.68 L773.75,527.39 L770,527.11 L766.25,526.85 L762.5,526.6 L758.75,526.37 L755,526.16 L751.37,526 L747.81,525.87 L744.1,525.74 L740,525.55 L735.35,525.27 L730.31,524.95 L725.12,524.61 L720,524.27 L715,523.87 L710,523.42 L705,523.07 L700,522.98 L695,523.24 L690,523.73 L685,524.37 L680,525.04 L675,525.82 L670,526.74 L665,527.59 L660,528.2 L655,528.48 L650,528.56 L645,528.5 L640,528.35 L635,528.12 L630,527.77 L625,527.34 L620,526.85 L615,526.28 L610,525.62 L605,524.93 L600,524.3 L595,523.7 L590,523.1 L585,522.57 L580,522.15 L574.88,521.84 L569.69,521.61 L564.65,521.5 L560,521.54 L555.9,521.76 L552.19,522.13 L548.63,522.61 L545,523.17 L541.18,523.85 L537.31,524.66 L533.54,525.49 L530,526.22 L527.03,526.83 L524.45,527.38 L521.65,527.88 L518,528.35 L512.65,528.83 L506.15,529.3 L500.03,529.7 L495.8,529.98" stroke="#6a6a6a" stroke-width="1.3"/>
<path d="M815.3,530.9 L811.93,529.99 L807.23,528.89 L801.67,527.35 L795.77,525.13 L790,522 L784.13,517.27 L777.84,511.1 L771.48,504.51 L765.41,498.54 L760,494.2 L755.43,491.94 L751.46,491.08 L747.81,490.95 L744.22,490.88 L740.4,490.2 L736.47,488.87 L732.61,487.34 L728.66,485.67 L724.44,483.93 L719.8,482.2 L714.61,480.36 L708.97,478.37 L703.09,476.39 L697.13,474.58 L691.3,473.1 L685.49,472.02 L679.59,471.23 L673.73,470.64 L668.05,470.13 L662.7,469.6 L657.77,469.1 L653.16,468.69 L648.74,468.31 L644.37,467.9 L639.9,467.4 L635.33,466.82 L630.75,466.21 L626.17,465.54 L621.62,464.77 L617.1,463.9 L612.6,462.88 L608.11,461.72 L603.66,460.48 L599.27,459.22 L595,458 L590.87,456.79 L586.85,455.56 L582.9,454.33 L578.97,453.14 L575,452 L571,450.97 L567,450.02 L563,449.1 L559,448.11 L555,447 L550.89,445.74 L546.66,444.39 L542.5,442.97 L538.55,441.5 L535,440 L531.74,438.34 L528.67,436.49 L525.93,434.67 L523.66,433.1 L522,432" stroke="#6a6a6a" stroke-width="1.3"/>
<path d="M815.3,530.9 L810.57,529.47 L803.95,527.47 L796.15,525.11 L787.93,522.55 L780,520 L772.18,517.36 L763.99,514.49 L755.7,511.55 L747.61,508.68 L740,506 L732.53,503.5 L724.99,501.07 L717.93,498.77 L711.85,496.63 L707.3,494.7 L704.89,493.2 L704.29,492.1 L704.53,491.07 L704.69,489.78 L703.8,487.9 L701.75,485.21 L699.16,481.91 L696.23,478.37 L693.14,474.91 L690.1,471.9 L686.99,469.22 L683.69,466.63 L680.35,464.31 L677.13,462.42 L674.2,461.1 L671.53,460.54 L669,460.63 L666.67,461.1 L664.56,461.71 L662.7,462.2 L661.37,462.61 L660.55,463.12 L659.82,463.64 L658.78,464.13 L657,464.5 L654.27,464.78 L650.87,465.03 L647.12,465.19 L643.36,465.23 L639.9,465.1 L636.78,464.71 L633.76,464.08 L630.83,463.36 L627.95,462.69 L625.1,462.2 L622.33,461.98 L619.67,461.94 L617.02,461.95 L614.3,461.88 L611.4,461.6 L608.27,461.13 L604.97,460.54 L601.59,459.83 L598.23,458.99 L595,458 L591.91,456.82 L588.9,455.44 L585.93,453.96 L582.98,452.45 L580,451 L576.97,449.62 L573.9,448.25 L570.86,446.87 L567.87,445.46 L565,444 L562.26,442.46 L559.61,440.87 L557.03,439.25 L554.5,437.62 L552,436 L549.54,434.4 L547.13,432.8 L544.75,431.2 L542.38,429.6 L540,428 L537.41,426.27 L534.62,424.42 L531.94,422.62 L529.63,421.09 L528,420" stroke="#6a6a6a" stroke-width="1.3"/>
<path d="M815.3,530.9 L810.57,530.04 L803.95,528.88 L796.15,527.46 L787.93,525.82 L780,524 L772.3,521.93 L764.34,519.57 L756.23,517.04 L748.08,514.48 L740,512 L731.77,509.55 L723.32,507.04 L714.98,504.56 L707.09,502.19 L700,500 L693.67,497.99 L687.86,496.12 L682.64,494.38 L678.07,492.77 L674.2,491.3 L671.37,490.27 L669.55,489.69 L668.22,489.09 L666.88,488.01 L665,486 L662.52,482.45 L659.77,477.68 L656.87,472.58 L653.94,468.05 L651.1,465 L648.35,463.85 L645.61,464 L642.87,464.82 L640.14,465.66 L637.4,465.9 L634.59,465.48 L631.7,464.83 L628.85,464.02 L626.15,463.12 L623.7,462.2 L621.59,461.26 L619.73,460.25 L618.02,459.18 L616.35,458.03 L614.6,456.8 L612.78,455.48 L610.96,454.06 L609.15,452.58 L607.33,451.05 L605.5,449.5 L603.66,447.92 L601.82,446.29 L599.98,444.63 L598.14,442.93 L596.3,441.2 L594.5,439.42 L592.74,437.6 L590.97,435.75 L589.14,433.91 L587.2,432.1 L585.06,430.16 L582.76,428.06 L580.42,426.07 L578.19,424.43 L576.2,423.4 L574.53,423.13 L573.1,423.46 L571.77,424.15 L570.42,424.97 L568.9,425.7 L567.27,426.38 L565.61,427.17 L563.86,427.99 L561.94,428.76 L559.8,429.4 L557.28,429.96 L554.43,430.48 L551.47,430.9 L548.62,431.16 L546.1,431.2 L543.91,430.98 L541.91,430.54 L540.1,429.93 L538.46,429.2 L537,428.4 L535.78,427.52 L534.79,426.52 L533.96,425.42 L533.19,424.24 L532.4,423 L531.57,421.72 L530.76,420.38 L529.99,418.96 L529.3,417.41 L528.7,415.7 L528.2,413.61 L527.79,411.15 L527.46,408.67 L527.2,406.51 L527,405" stroke="#6a6a6a" stroke-width="1.3"/>
<path d="M815.3,530.9 L811.93,529.84 L807.23,528.36 L801.67,526.62 L795.77,524.78 L790,523 L784.3,521.25 L778.34,519.43 L772.23,517.58 L766.08,515.75 L760,514 L754,512.37 L748,510.82 L742,509.3 L736,507.71 L730,506 L724,504.1 L718,502.05 L712,499.95 L706,497.9 L700,496 L694,494.29 L688,492.7 L682,491.18 L676,489.63 L670,488 L663.92,486.26 L657.76,484.47 L651.64,482.65 L645.68,480.82 L640,479 L634.52,477.15 L629.16,475.26 L624.04,473.38 L619.28,471.61 L615,470 L611.32,468.61 L608.17,467.4 L605.36,466.28 L602.7,465.17 L600,464 L597.24,462.78 L594.54,461.55 L591.95,460.31 L589.49,459.03 L587.2,457.7 L585.11,456.3 L583.21,454.85 L581.43,453.37 L579.75,451.88 L578.1,450.4 L576.5,448.94 L574.96,447.48 L573.5,446.02 L572.12,444.56 L570.8,443.1 L569.56,441.63 L568.38,440.14 L567.28,438.66 L566.26,437.2 L565.3,435.8 L564.41,434.46 L563.58,433.18 L562.82,431.92 L562.16,430.67 L561.6,429.4 L561.16,428.13 L560.83,426.88 L560.58,425.62 L560.41,424.34 L560.3,423 L560.26,421.59 L560.29,420.12 L560.39,418.62 L560.54,417.14 L560.7,415.7 L560.86,414.25 L561.03,412.78 L561.24,411.35 L561.55,410.06 L562,409 L562.65,408.14 L563.48,407.43 L564.38,406.9 L565.25,406.58 L566,406.5 L566.69,406.71 L567.4,407.18 L568,407.86 L568.41,408.65 L568.5,409.5 L568.21,410.49 L567.61,411.66 L566.81,412.9 L565.9,414.05 L565,415 L564.04,415.72 L562.97,416.29 L561.85,416.76 L560.77,417.15 L559.8,417.5 L559.06,417.78 L558.51,417.98 L557.96,418.12 L557.22,418.25 L556.1,418.4 L554.45,418.65 L552.38,418.98 L550.14,419.26 L547.97,419.41 L546.1,419.3 L544.5,418.9 L543.02,418.28 L541.69,417.49 L540.57,416.61 L539.7,415.7 L539.11,414.74 L538.77,413.68 L538.64,412.56 L538.66,411.39 L538.8,410.2 L539.09,408.86 L539.57,407.35 L540.18,405.88 L540.84,404.63 L541.5,403.8 L542.27,403.46 L543.19,403.47 L544.1,403.74 L544.82,404.19 L545.2,404.7 L545.18,405.43 L544.88,406.43 L544.36,407.5 L543.71,408.42 L543,409 L542.18,409.17 L541.2,409.08 L540.13,408.8 L539.04,408.41 L538,408 L536.92,407.48 L535.76,406.8 L534.64,406.08 L533.68,405.44 L533,405" stroke="#6a6a6a" stroke-width="1.3"/>
<path d="M815.3,530.9 L811.93,530 L807.23,528.74 L801.67,527.24 L795.77,525.62 L790,524 L784.46,522.35 L778.82,520.6 L772.95,518.77 L766.72,516.9 L760,515 L752.64,513.06 L744.72,511.07 L736.48,509.05 L728.16,507.02 L720,505 L712,503.05 L704,501.14 L696,499.22 L688,497.19 L680,495 L671.84,492.58 L663.52,489.97 L655.28,487.27 L647.36,484.58 L640,482 L633.2,479.47 L626.8,476.94 L620.8,474.46 L615.2,472.13 L610,470 L605.3,468.2 L601.11,466.68 L597.27,465.27 L593.62,463.77 L590,462 L586.31,459.87 L582.66,457.5 L579.2,455.04 L576.1,452.62 L573.5,450.4 L571.59,448.4 L570.26,446.54 L569.24,444.76 L568.28,443 L567.1,441.2 L565.67,439.34 L564.16,437.47 L562.63,435.61 L561.16,433.8 L559.8,432.1 L558.58,430.55 L557.47,429.14 L556.41,427.76 L555.37,426.35 L554.3,424.8 L553.16,423.07 L551.99,421.2 L550.83,419.3 L549.75,417.43 L548.8,415.7 L547.98,414.11 L547.26,412.61 L546.63,411.17 L546.08,409.77 L545.6,408.4 L545.21,407.11 L544.92,405.91 L544.7,404.72 L544.5,403.44 L544.3,402 L544.08,400.34 L543.87,398.52 L543.68,396.61 L543.52,394.68 L543.4,392.8 L543.37,390.9 L543.43,388.94 L543.49,387.01 L543.51,385.23 L543.4,383.7 L543.26,382.43 L543.12,381.36 L542.87,380.46 L542.37,379.71 L541.5,379.1 L540,378.67 L537.94,378.43 L535.73,378.32 L533.75,378.26 L532.4,378.2" stroke="#6a6a6a" stroke-width="1.3"/>
<path d="M815.3,530.9 L811.93,530.13 L807.23,529.07 L801.67,527.79 L795.77,526.41 L790,525 L784.46,523.55 L778.82,522 L772.95,520.37 L766.72,518.7 L760,517 L752.64,515.3 L744.72,513.57 L736.48,511.79 L728.16,509.94 L720,508 L712,505.94 L704,503.79 L696,501.57 L688,499.3 L680,497 L672,494.71 L664,492.42 L656,490.06 L648,487.61 L640,485 L631.76,482.11 L623.28,478.98 L614.92,475.78 L607.04,472.73 L600,470 L593.88,467.67 L588.45,465.62 L583.57,463.73 L579.13,461.89 L575,460 L571.24,457.96 L567.92,455.85 L564.97,453.8 L562.29,451.94 L559.8,450.4 L557.56,449.31 L555.63,448.58 L553.92,448.03 L552.31,447.46 L550.7,446.7 L549.1,445.74 L547.56,444.72 L546.1,443.62 L544.72,442.44 L543.4,441.2 L542.16,439.88 L540.98,438.5 L539.88,437.04 L538.86,435.5 L537.9,433.9 L537.01,432.2 L536.2,430.39 L535.46,428.53 L534.79,426.65 L534.2,424.8 L533.7,422.98 L533.3,421.16 L532.96,419.35 L532.67,417.53 L532.4,415.7 L532.14,413.86 L531.91,412.02 L531.72,410.18 L531.58,408.34 L531.5,406.5 L531.5,404.67 L531.56,402.85 L531.67,401.04 L531.79,399.22 L531.9,397.4 L531.99,395.58 L532.07,393.76 L532.17,391.95 L532.27,390.13 L532.4,388.3 L532.57,386.32 L532.77,384.19 L532.99,382.12 L533.17,380.35 L533.3,379.1" stroke="#6a6a6a" stroke-width="1.3"/>
<path d="M815.3,530.9 L812.09,530.01 L807.71,528.79 L802.39,527.31 L796.41,525.69 L790,524 L782.94,522.21 L775.06,520.27 L766.71,518.22 L758.24,516.11 L750,514 L742,511.86 L734,509.67 L726,507.45 L718,505.22 L710,503 L702,500.85 L694,498.74 L686,496.62 L678,494.39 L670,492 L661.84,489.33 L653.52,486.42 L645.28,483.46 L637.36,480.59 L630,478 L623.36,475.79 L617.28,473.86 L611.52,472.02 L605.84,470.13 L600,468 L593.84,465.58 L587.52,462.97 L581.28,460.27 L575.36,457.58 L570,455 L565.22,452.56 L560.86,450.2 L556.89,447.87 L553.28,445.49 L550,443 L547.08,440.22 L544.53,437.2 L542.32,434.2 L540.42,431.51 L538.8,429.4 L537.58,428.04 L536.78,427.25 L536.21,426.77 L535.71,426.34 L535.1,425.7 L534.34,424.85 L533.55,423.96 L532.78,423.04 L532.08,422.09 L531.5,421.1 L531.06,420.13 L530.73,419.18 L530.48,418.17 L530.28,417.04 L530.1,415.7 L529.95,414.18 L529.85,412.51 L529.78,410.69 L529.74,408.69 L529.7,406.5 L529.69,403.97 L529.72,401.12 L529.75,398.16 L529.76,395.32 L529.7,392.8 L529.59,390.67 L529.45,388.79 L529.27,387.05 L529.02,385.39 L528.7,383.7 L528.27,381.96 L527.74,380.23 L527.16,378.54 L526.57,376.95 L526,375.5 L525.45,374.27 L524.9,373.23 L524.35,372.25 L523.81,371.22 L523.3,370 L522.78,368.43 L522.24,366.6 L521.74,364.74 L521.31,363.13 L521,362" stroke="#6a6a6a" stroke-width="1.3"/>
<path d="M815.3,530.9 L812.09,529.86 L807.71,528.41 L802.39,526.69 L796.41,524.84 L790,523 L782.94,521.15 L775.06,519.2 L766.71,517.17 L758.24,515.1 L750,513 L742,510.86 L734,508.67 L726,506.45 L718,504.22 L710,502 L702,499.85 L694,497.74 L686,495.62 L678,493.39 L670,491 L661.84,488.34 L653.52,485.47 L645.28,482.53 L637.36,479.66 L630,477 L623.36,474.66 L617.28,472.53 L611.52,470.47 L605.84,468.34 L600,466 L593.92,463.36 L587.76,460.52 L581.64,457.6 L575.68,454.72 L570,452 L564.51,449.49 L559.13,447.12 L554,444.8 L549.24,442.46 L545,440 L541.26,437.3 L537.92,434.4 L535.02,431.52 L532.57,428.85 L530.6,426.6 L529.27,424.92 L528.55,423.67 L528.23,422.62 L528.05,421.54 L527.8,420.2 L527.49,418.63 L527.28,416.98 L527.13,415.2 L527.02,413.26 L526.9,411.1 L526.8,408.58 L526.75,405.73 L526.71,402.77 L526.64,399.92 L526.5,397.4 L526.32,395.21 L526.12,393.21 L525.87,391.4 L525.54,389.76 L525.1,388.3 L524.45,387.02 L523.61,385.92 L522.72,384.99 L521.94,384.25 L521.4,383.7" stroke="#6a6a6a" stroke-width="1.3"/>
<path d="M815.3,530.9 L812.25,529.77 L808.19,528.23 L803.11,526.35 L797.05,524.25 L790,522 L781.42,519.48 L771.3,516.62 L760.47,513.63 L749.76,510.69 L740,508 L731.36,505.62 L723.28,503.43 L715.52,501.33 L707.84,499.22 L700,497 L691.84,494.68 L683.52,492.32 L675.28,489.92 L667.36,487.48 L660,485 L653.12,482.4 L646.56,479.68 L640.44,476.96 L634.88,474.36 L630,472 L625.98,469.98 L622.73,468.21 L619.99,466.55 L617.5,464.86 L615,463 L612.46,460.84 L610.06,458.47 L607.83,456.09 L605.8,453.87 L604,452 L602.48,450.5 L601.23,449.25 L600.16,448.22 L599.17,447.37 L598.2,446.7 L597.27,446.27 L596.44,446.11 L595.66,446.09 L594.87,446.09 L594,446 L593.07,445.74 L592.11,445.39 L591.11,445.06 L590.08,444.86 L589,444.9 L587.9,445.24 L586.77,445.79 L585.59,446.49 L584.34,447.26 L583,448 L581.64,448.81 L580.28,449.73 L578.8,450.64 L577.08,451.44 L575,452 L572.45,452.29 L569.5,452.38 L566.34,452.34 L563.11,452.19 L560,452 L557,451.74 L554,451.39 L551,450.97 L548,450.5 L545,450 L541.92,449.43 L538.76,448.78 L535.64,448.1 L532.68,447.49 L530,447 L527.52,446.66 L525.16,446.41 L523.04,446.23 L521.28,446.1 L520,446" stroke="#6a6a6a" stroke-width="1.3"/>
<path d="M815.3,530.9 L812.09,529.88 L807.71,528.46 L802.39,526.76 L796.41,524.9 L790,523 L783.1,521.01 L775.54,518.87 L767.43,516.62 L758.88,514.31 L750,512 L740.48,509.63 L730.24,507.18 L719.76,504.7 L709.52,502.29 L700,500 L691.36,497.9 L683.28,495.95 L675.52,494.05 L667.84,492.1 L660,490 L651.84,487.7 L643.52,485.25 L635.28,482.75 L627.36,480.3 L620,478 L613.28,475.84 L607.04,473.76 L601.16,471.76 L595.52,469.84 L590,468 L584.6,466.22 L579.4,464.51 L574.4,462.89 L569.6,461.38 L565,460 L560.6,458.81 L556.4,457.78 L552.4,456.86 L548.6,455.95 L545,455 L541.6,454.02 L538.4,453.05 L535.4,452.07 L532.6,451.06 L530,450 L527.62,448.9 L525.45,447.77 L523.47,446.59 L521.66,445.34 L520,444 L518.46,442.45 L517.05,440.7 L515.81,438.94 L514.78,437.31 L514,436 L513.54,435.03 L513.38,434.3 L513.4,433.74 L513.48,433.33 L513.5,433" stroke="#6a6a6a" stroke-width="1.3"/>
<path d="M815.3,530.9 L812.09,530.03 L807.71,528.83 L802.39,527.39 L796.41,525.75 L790,524 L783.1,522.06 L775.54,519.9 L767.43,517.6 L758.88,515.27 L750,513 L740.48,510.78 L730.24,508.55 L719.76,506.33 L709.52,504.14 L700,502 L691.36,499.97 L683.28,498.02 L675.52,496.1 L667.84,494.11 L660,492 L651.84,489.7 L643.52,487.25 L635.28,484.75 L627.36,482.3 L620,480 L613.28,477.84 L607.04,475.76 L601.16,473.76 L595.52,471.84 L590,470 L584.6,468.22 L579.4,466.51 L574.4,464.89 L569.6,463.38 L565,462 L560.6,460.81 L556.4,459.78 L552.4,458.86 L548.6,457.95 L545,457 L541.58,456 L538.35,455 L535.33,454 L532.54,453 L530,452 L527.74,451.03 L525.73,450.1 L523.95,449.14 L522.38,448.13 L521,447 L519.82,445.62 L518.85,444.01 L518.07,442.39 L517.46,440.98 L517,440" stroke="#6a6a6a" stroke-width="1.3"/>
<path d="M815.3,530.9 L812.09,529.89 L807.71,528.51 L802.39,526.83 L796.41,524.97 L790,523 L783.1,520.86 L775.54,518.5 L767.43,516 L758.88,513.47 L750,511 L740.48,508.58 L730.24,506.15 L719.76,503.73 L709.52,501.34 L700,499 L691.28,496.75 L683.04,494.58 L675.16,492.42 L667.52,490.25 L660,488 L652.6,485.63 L645.4,483.18 L638.4,480.7 L631.6,478.29 L625,476 L618.6,473.86 L612.4,471.81 L606.4,469.83 L600.6,467.9 L595,466 L589.6,464.07 L584.4,462.14 L579.4,460.26 L574.6,458.53 L570,457 L565.6,455.68 L561.4,454.52 L557.4,453.52 L553.6,452.68 L550,452 L546.65,451.54 L543.54,451.31 L540.62,451.21 L537.79,451.14 L535,451 L532.19,450.83 L529.42,450.7 L526.74,450.54 L524.25,450.33 L522,450 L519.98,449.53 L518.15,448.94 L516.53,448.3 L515.14,447.63 L514,447 L513.18,446.35 L512.67,445.66 L512.37,444.98 L512.18,444.41 L512,444" stroke="#6a6a6a" stroke-width="1.3"/>
<path d="M815.3,530.9 L811.93,530.48 L807.23,529.86 L801.67,529.16 L795.77,528.5 L790,528 L784.46,527.66 L778.82,527.42 L772.95,527.24 L766.72,527.11 L760,527 L752.64,526.9 L744.72,526.83 L736.48,526.81 L728.16,526.86 L720,527 L711.92,527.35 L703.76,527.88 L695.64,528.44 L687.68,528.86 L680,529 L672.63,528.63 L665.5,527.85 L658.55,527.01 L651.73,526.41 L645,526.4 L638.4,527.05 L631.96,528.14 L625.61,529.56 L619.28,531.19 L612.9,532.9 L606.46,534.83 L600.02,537.06 L593.58,539.39 L587.14,541.64 L580.7,543.6 L574.19,545.34 L567.6,546.99 L561.05,548.46 L554.68,549.65 L548.6,550.5 L542.77,550.83 L537.11,550.71 L531.69,550.38 L526.56,550.06 L521.8,550 L517.36,550.24 L513.19,550.61 L509.36,551.06 L505.94,551.54 L503,552 L500.58,552.48 L498.64,553.01 L497.11,553.53 L495.92,553.98 L495,554.3" stroke="#6a6a6a" stroke-width="1.3"/>
<path d="M815.3,530.9 L812.09,530.63 L807.71,530.23 L802.39,529.79 L796.41,529.35 L790,529 L783.1,528.74 L775.54,528.54 L767.43,528.36 L758.88,528.19 L750,528 L740.72,527.84 L730.96,527.73 L720.84,527.6 L710.48,527.38 L700,527 L689.13,526.14 L677.78,524.83 L666.37,523.58 L655.31,522.87 L645,523.2 L635.47,524.91 L626.45,527.69 L617.9,530.99 L609.8,534.31 L602.1,537.1 L594.9,539.41 L588.23,541.59 L581.94,543.59 L575.91,545.34 L570,546.8 L564.3,548.01 L558.9,549.01 L553.67,549.72 L548.48,550.08 L543.2,550 L537.59,549.32 L531.74,548.09 L526.01,546.56 L520.77,544.98 L516.4,543.6 L512.95,542.34 L510.18,541.03 L508,539.8 L506.3,538.75 L505,538" stroke="#6a6a6a" stroke-width="1.3"/>
<path d="M815.3,530.9 L812.09,530.48 L807.71,529.86 L802.39,529.16 L796.41,528.5 L790,528 L783.1,527.65 L775.54,527.37 L767.43,527.16 L758.88,527.04 L750,527 L740.72,527.03 L730.96,527.12 L720.84,527.3 L710.48,527.59 L700,528 L689.3,528.54 L678.29,529.19 L667.14,529.96 L655.99,530.83 L645,531.8 L634.02,532.98 L622.94,534.37 L612,535.82 L601.41,537.15 L591.4,538.2 L581.92,539 L572.82,539.65 L564.18,540.12 L556.08,540.39 L548.6,540.4 L541.66,540.07 L535.2,539.42 L529.35,538.6 L524.24,537.74 L520,537 L516.8,536.33 L514.56,535.63 L513.01,534.96 L511.91,534.4 L511,534" stroke="#6a6a6a" stroke-width="1.3"/>
<path d="M815.3,530.9 L811.93,530.49 L807.23,529.91 L801.67,529.23 L795.77,528.57 L790,528 L784.46,527.54 L778.82,527.14 L772.95,526.76 L766.72,526.39 L760,526 L752.64,525.55 L744.72,525.06 L736.48,524.58 L728.16,524.21 L720,524 L712,523.94 L704,523.99 L696,524.17 L688,524.5 L680,525 L672,525.78 L664,526.81 L656,527.95 L648,529.06 L640,530 L632,530.82 L624,531.63 L616,532.33 L608,532.82 L600,533 L591.84,532.8 L583.52,532.28 L575.28,531.56 L567.36,530.76 L560,530 L553.2,529.26 L546.8,528.47 L540.8,527.65 L535.2,526.82 L530,526 L525.2,525.17 L520.8,524.3 L516.8,523.46 L513.2,522.67 L510,522 L507.2,521.44 L504.8,520.96 L502.8,520.56 L501.2,520.24 L500,520" stroke="#6a6a6a" stroke-width="1.3"/>
<path d="M815.3,530.9 L811.93,530.36 L807.23,529.58 L801.67,528.68 L795.77,527.78 L790,527 L784.46,526.33 L778.82,525.69 L772.95,525.08 L766.72,524.52 L760,524 L752.64,523.52 L744.72,523.08 L736.48,522.68 L728.16,522.32 L720,522 L712,521.69 L704,521.38 L696,521.14 L688,520.99 L680,521 L672,521.21 L664,521.58 L656,522.06 L648,522.55 L640,523 L632,523.42 L624,523.85 L616,524.27 L608,524.66 L600,525 L591.84,525.3 L583.52,525.57 L575.28,525.79 L567.36,525.94 L560,526 L553.3,525.93 L547.09,525.74 L541.23,525.5 L535.58,525.23 L530,525 L524.13,524.78 L518.06,524.55 L512.34,524.33 L507.47,524.14 L504,524" stroke="#6a6a6a" stroke-width="1.3"/>
<path d="M815.3,530.9 L812.09,530.48 L807.71,529.86 L802.39,529.16 L796.41,528.5 L790,528 L783.1,527.66 L775.54,527.42 L767.43,527.24 L758.88,527.11 L750,527 L740.48,526.9 L730.24,526.83 L719.76,526.81 L709.52,526.86 L700,527 L691.36,527.22 L683.28,527.51 L675.52,527.89 L667.84,528.38 L660,529 L651.84,529.78 L643.52,530.69 L635.28,531.71 L627.36,532.82 L620,534 L613.36,535.29 L607.28,536.7 L601.52,538.18 L595.84,539.63 L590,541 L584,542.33 L578,543.66 L572,544.94 L566,546.07 L560,547 L553.92,547.74 L547.76,548.33 L541.64,548.75 L535.68,548.98 L530,549 L524.39,548.7 L518.78,548.11 L513.46,547.37 L508.77,546.62 L505,546 L502.34,545.5 L500.57,545.03 L499.43,544.61 L498.66,544.26 L498,544" stroke="#6a6a6a" stroke-width="1.3"/>
<path d="M525,405 L524.83,402.94 L524.59,400.02 L524.31,396.63 L524.02,393.16 L523.75,390 L523.6,387.29 L523.55,384.77 L523.45,382.23 L523.15,379.46 L522.5,376.25 L521.42,372.24 L520.01,367.57 L518.39,362.78 L516.68,358.41 L515,355 L513.37,352.76 L511.71,351.33 L509.99,350.39 L508.18,349.64 L506.25,348.75 L504.26,347.72 L502.23,346.76 L500.07,345.87 L497.69,345.08 L495,344.4 L491.62,343.83 L487.61,343.37 L483.54,343.01 L479.98,342.72 L477.5,342.5" stroke="#8a8a8a" stroke-width="1.3"/>
<path d="M477.5,342.5 L460,348.75" stroke="#8a8a8a" stroke-width="1.3"/>
<path d="M460,348.75 L456.78,349.94 L452.14,351.62 L446.86,353.58 L441.72,355.61 L437.5,357.5 L434.22,359.27 L431.36,361.06 L428.89,362.84 L426.78,364.58 L425,366.25 L423.77,367.75 L423.11,369.1 L422.69,370.45 L422.18,371.95 L421.25,373.75 L419.71,376.03 L417.78,378.69 L415.75,381.46 L413.89,384.07 L412.5,386.25 L411.58,387.92 L410.94,389.26 L410.58,390.39 L410.47,391.43 L410.6,392.5 L411.13,393.6 L412.06,394.65 L413.16,395.65 L414.22,396.6 L415,397.5 L415.57,398.3 L416.09,399 L416.44,399.67 L416.53,400.4 L416.25,401.25 L415.38,402.35 L413.99,403.64 L412.41,404.96 L410.97,406.1 L410,406.9" stroke="#c8c8c8" stroke-width="1.3"/>
<path d="M537.5,378.1 L538.9,378.31 L540.9,378.62 L543.2,378.96 L545.5,379.24 L547.5,379.4 L549.21,379.46 L550.83,379.49 L552.34,379.42 L553.74,379.19 L555,378.75 L556.18,378.09 L557.29,377.24 L558.24,376.23 L558.97,375.06 L559.4,373.75 L559.45,372.2 L559.18,370.4 L558.7,368.5 L558.1,366.65 L557.5,365 L556.73,363.55 L555.71,362.2 L554.71,360.95 L553.97,359.8 L553.75,358.75 L554.23,357.94 L555.24,357.37 L556.51,356.83 L557.77,356.11 L558.75,355 L559.47,353.48 L560.11,351.69 L560.64,349.66 L561.03,347.42 L561.25,345 L561.18,342.26 L560.83,339.19 L560.39,335.99 L560.05,332.86 L560,330 L560.33,327.41 L560.93,324.94 L561.64,322.62 L562.31,320.46 L562.8,318.5 L563.09,316.68 L563.26,315 L563.37,313.52 L563.44,312.3 L563.5,311.4" stroke="#cfcfcf" stroke-width="1.3"/>
<path d="M815.3,530.9 L810.32,529.69 L803.32,527.98 L795.11,526 L786.47,523.96 L778.2,522.1 L770.24,520.42 L762.05,518.78 L753.73,517.15 L745.38,515.53 L737.1,513.9 L728.88,512.24 L720.66,510.57 L712.44,508.91 L704.22,507.28 L696,505.7 L687.45,504.18 L678.57,502.7 L669.86,501.26 L661.8,499.86 L654.9,498.5 L649.48,497.18 L645.22,495.9 L641.62,494.65 L638.18,493.45 L634.4,492.3 L630.28,491.19 L626.16,490.13 L622.04,489.12 L617.92,488.14 L613.8,487.2 L609.7,486.27 L605.6,485.34 L601.5,484.48 L597.4,483.71 L593.3,483.1 L589.18,482.65 L585.06,482.34 L580.94,482.14 L576.82,482.03 L572.7,482 L568.6,482.13 L564.5,482.44 L560.4,482.78 L556.3,483.05 L552.2,483.1 L547.99,482.9 L543.66,482.54 L539.39,482.07 L535.32,481.54 L531.6,481 L528.21,480.46 L525.04,479.88 L522.13,479.26 L519.54,478.6 L517.3,477.9 L515.41,477.18 L513.84,476.43 L512.6,475.63 L511.69,474.76 L511.1,473.8 L510.94,472.71 L511.2,471.51 L511.75,470.24 L512.43,468.96 L513.1,467.7 L513.85,466.45 L514.78,465.17 L515.74,463.91 L516.63,462.67 L517.3,461.5 L517.75,460.39 L518.08,459.33 L518.28,458.32 L518.35,457.34 L518.3,456.4 L518.04,455.45 L517.58,454.49 L517.04,453.6 L516.54,452.84 L516.2,452.3" stroke="#800080" stroke-width="4.17"/>
<path d="M815.3,530.9 L813.1,530.39 L810.04,529.65 L806.42,528.81 L802.54,527.95 L798.7,527.2 L794.85,526.56 L790.78,525.95 L786.59,525.37 L782.36,524.8 L778.2,524.2 L774.1,523.61 L770,523.03 L765.91,522.45 L761.81,521.81 L757.7,521.1 L753.58,520.29 L749.46,519.42 L745.34,518.49 L741.22,517.54 L737.1,516.6 L733,515.64 L728.9,514.64 L724.8,513.64 L720.7,512.68 L716.6,511.8 L712.48,510.99 L708.36,510.22 L704.24,509.5 L700.12,508.86 L696,508.3 L691.9,507.85 L687.8,507.49 L683.7,507.21 L679.6,506.95 L675.5,506.7 L671.38,506.51 L667.26,506.41 L663.14,506.29 L659.02,506.09 L654.9,505.7 L650.8,505.09 L646.7,504.32 L642.6,503.44 L638.5,502.51 L634.4,501.6 L630.28,500.68 L626.16,499.72 L622.04,498.73 L617.92,497.75 L613.8,496.8 L609.7,495.87 L605.6,494.96 L601.5,494.06 L597.4,493.17 L593.3,492.3 L589.09,491.47 L584.77,490.68 L580.5,489.89 L576.42,489.08 L572.7,488.2 L569.46,487.26 L566.59,486.28 L563.91,485.27 L561.21,484.21 L558.3,483.1 L555.08,481.88 L551.69,480.55 L548.26,479.21 L544.95,477.96 L541.9,476.9 L539.15,476.05 L536.59,475.34 L534.18,474.74 L531.87,474.24 L529.6,473.8 L527.39,473.52 L525.28,473.4 L523.24,473.32 L521.26,473.16 L519.3,472.8 L517.24,472.11 L515.1,471.19 L513.06,470.19 L511.33,469.31 L510.1,468.7" stroke="#000" stroke-width="4.17"/>
</g>
<circle cx="815.2" cy="531" r="2.6" fill="#000"/>
<rect x="80.5" y="89.5" width="1540.9" height="962.8" fill="none" stroke="#000" stroke-width="1.2"/>
<text x="79.64" y="22" font-size="17.5" font-weight="bold" textLength="449.7" lengthAdjust="spacingAndGlyphs" fill="#000" stroke="#000" stroke-width="0.35" xml:space="preserve">Maximum forecast trajectory duration : 10 days</text>
<text x="79.63" y="41" font-size="17.5" font-weight="bold" textLength="247.73" lengthAdjust="spacingAndGlyphs" fill="#000" stroke="#000" stroke-width="0.35" xml:space="preserve">Intercept distance: 300km</text>
<text x="79.65" y="61" font-size="17.5" font-weight="bold" textLength="290.51" lengthAdjust="spacingAndGlyphs" fill="#000" stroke="#000" stroke-width="0.35" xml:space="preserve">Intercept RW2 (EPS):  30km/h2</text>
<text x="79.65" y="80" font-size="17.5" font-weight="bold" textLength="299.27" lengthAdjust="spacingAndGlyphs" fill="#000" stroke="#000" stroke-width="0.35" xml:space="preserve">Intercept RW2 (HRES): 30km/h2</text>
<text x="1204.93" y="22" font-size="17.5" font-weight="bold" textLength="144" lengthAdjust="spacingAndGlyphs" fill="#000" stroke="#000" stroke-width="0.35" xml:space="preserve">Site: Rodrigues</text>
<text x="1204.49" y="41" font-size="17.5" font-weight="bold" textLength="346.54" lengthAdjust="spacingAndGlyphs" fill="#000" stroke="#000" stroke-width="0.35" xml:space="preserve">Forecast date: Thu. 05/03, 00h (UTC)</text>
<text x="1204.94" y="61" font-size="17.5" font-weight="bold" textLength="355.76" lengthAdjust="spacingAndGlyphs" fill="#000" stroke="#000" stroke-width="0.35" xml:space="preserve">Speed function: U10_speed_Helikite_4</text>
<text x="1204.48" y="80" font-size="17.5" font-weight="bold" textLength="378.77" lengthAdjust="spacingAndGlyphs" fill="#000" stroke="#000" stroke-width="0.35" xml:space="preserve">Deployment date: Thu. 05/03, 14h (UTC)</text>
<text x="614.84" y="63" font-size="43.75" font-weight="bold" textLength="469.47" lengthAdjust="spacingAndGlyphs" fill="#000" stroke="#000" stroke-width="0.87" xml:space="preserve">Thu. 05/03, 18h (LT)</text>
<text x="10.13" y="316" font-size="21.88" font-weight="bold" textLength="53.02" lengthAdjust="spacingAndGlyphs" fill="#000" stroke="#000" stroke-width="0.44" xml:space="preserve">10°S</text>
<text x="10.12" y="544.3" font-size="21.88" font-weight="bold" textLength="53.03" lengthAdjust="spacingAndGlyphs" fill="#000" stroke="#000" stroke-width="0.44" xml:space="preserve">20°S</text>
<text x="10.15" y="787.6" font-size="21.88" font-weight="bold" textLength="53" lengthAdjust="spacingAndGlyphs" fill="#000" stroke="#000" stroke-width="0.44" xml:space="preserve">30°S</text>
<text x="274.05" y="1082.9" font-size="21.88" font-weight="bold" textLength="52.48" lengthAdjust="spacingAndGlyphs" fill="#000" stroke="#000" stroke-width="0.44" xml:space="preserve">40°E</text>
<text x="713.99" y="1082.9" font-size="21.88" font-weight="bold" textLength="52.65" lengthAdjust="spacingAndGlyphs" fill="#000" stroke="#000" stroke-width="0.44" xml:space="preserve">60°E</text>
<text x="1154.69" y="1082.9" font-size="21.88" font-weight="bold" textLength="52.55" lengthAdjust="spacingAndGlyphs" fill="#000" stroke="#000" stroke-width="0.44" xml:space="preserve">80°E</text>
<text x="1587.74" y="1082.9" font-size="21.88" font-weight="bold" textLength="66.75" lengthAdjust="spacingAndGlyphs" fill="#000" stroke="#000" stroke-width="0.44" xml:space="preserve">100°E</text>
<rect x="1274.7" y="874.7" width="338.6" height="167.8" rx="3.5" ry="3.5" fill="#fff" stroke="#000" stroke-width="1.1"/>
<line x1="1281.1" y1="887.4" x2="1315.0" y2="887.4" stroke="#808080" stroke-width="1.39" stroke-linecap="butt"/>
<line x1="1281.1" y1="910.4" x2="1315.0" y2="910.4" stroke="#ff4500" stroke-width="1.39" stroke-linecap="butt"/>
<line x1="1281.1" y1="933.5" x2="1315.0" y2="933.5" stroke="#808000" stroke-width="1.39" stroke-linecap="butt"/>
<line x1="1281.1" y1="957.3" x2="1315.0" y2="957.3" stroke="#008000" stroke-width="1.39" stroke-linecap="butt"/>
<line x1="1281.0" y1="980.2" x2="1314.0" y2="980.2" stroke="#800080" stroke-width="4.17" stroke-linecap="square"/>
<line x1="1281.0" y1="1003.2" x2="1314.0" y2="1003.2" stroke="#000" stroke-width="4.17" stroke-linecap="square"/>
<text x="1326.88" y="892.7" font-size="17.5" font-weight="normal" textLength="128.74" lengthAdjust="spacingAndGlyphs" fill="#000" stroke="#000" stroke-width="0.2" xml:space="preserve">No Interception</text>
<text x="1326.68" y="916.17" font-size="17.5" font-weight="normal" textLength="279.76" lengthAdjust="spacingAndGlyphs" fill="#000" stroke="#000" stroke-width="0.2" xml:space="preserve">Interception from Named cyclone</text>
<text x="1326.67" y="939.64" font-size="17.5" font-weight="normal" textLength="223" lengthAdjust="spacingAndGlyphs" fill="#000" stroke="#000" stroke-width="0.2" xml:space="preserve">Interception from Trochoid</text>
<text x="1326.65" y="963.11" font-size="17.5" font-weight="normal" textLength="188.66" lengthAdjust="spacingAndGlyphs" fill="#000" stroke="#000" stroke-width="0.2" xml:space="preserve">Interception from both</text>
<text x="1327.12" y="986.58" font-size="17.5" font-weight="normal" textLength="44.72" lengthAdjust="spacingAndGlyphs" fill="#000" stroke="#000" stroke-width="0.2" xml:space="preserve">HRES</text>
<text x="1326.89" y="1010.05" font-size="17.5" font-weight="normal" textLength="191.81" lengthAdjust="spacingAndGlyphs" fill="#000" stroke="#000" stroke-width="0.2" xml:space="preserve">Analysis | 84h duration</text>
<text x="1326.33" y="1033.52" font-size="17.5" font-weight="normal" textLength="238.57" lengthAdjust="spacingAndGlyphs" fill="#000" stroke="#000" stroke-width="0.2" xml:space="preserve">TC obs. for analysis duration</text>
<path d="M653.05,280.79 A6.9,6.9 0 1 0 661.34,279.41" fill="none" stroke="#000" stroke-width="3.05"/><path d="M659.4,277.3 h8.6 v2.9 h-5.7 v5.6 h-2.9 Z" fill="#000"/>
<path d="M694.95,303.49 A6.9,6.9 0 1 0 703.24,302.11" fill="none" stroke="#000" stroke-width="3.05"/><path d="M701.3,300 h8.6 v2.9 h-5.7 v5.6 h-2.9 Z" fill="#000"/>
<path d="M706.15,333.89 A6.9,6.9 0 1 0 714.44,332.51" fill="none" stroke="#000" stroke-width="3.05"/><path d="M712.5,330.4 h8.6 v2.9 h-5.7 v5.6 h-2.9 Z" fill="#000"/>
<path d="M1509.35,439.39 A6.9,6.9 0 1 0 1517.64,438.01" fill="none" stroke="#000" stroke-width="3.05"/><path d="M1515.7,435.9 h8.6 v2.9 h-5.7 v5.6 h-2.9 Z" fill="#000"/>
<path d="M1551.55,451.99 A6.9,6.9 0 1 0 1559.84,450.61" fill="none" stroke="#000" stroke-width="3.05"/><path d="M1557.9,448.5 h8.6 v2.9 h-5.7 v5.6 h-2.9 Z" fill="#000"/>
<path d="M1604.35,465.79 A6.9,6.9 0 1 0 1612.64,464.41" fill="none" stroke="#000" stroke-width="3.05"/><path d="M1610.7,462.3 h8.6 v2.9 h-5.7 v5.6 h-2.9 Z" fill="#000"/>
<path d="M1294.87,1026.3 A4.69,4.69 0 1 0 1300.5,1025.36" fill="none" stroke="#000" stroke-width="2.5"/><path d="M1299.18,1023.92 h5.85 v2.38 h-3.47 v3.41 h-2.38 Z" fill="#000"/>
<rect x="1665.5" y="189.5" width="19.8" height="748.8" fill="#08306b"/>
<rect x="1665.5" y="218.3" width="19.8" height="720" fill="#083979"/>
<rect x="1665.5" y="247.1" width="19.8" height="691.2" fill="#084387"/>
<rect x="1665.5" y="275.9" width="19.8" height="662.4" fill="#084d96"/>
<rect x="1665.5" y="304.7" width="19.8" height="633.6" fill="#0c56a0"/>
<rect x="1665.5" y="333.5" width="19.8" height="604.8" fill="#135fa7"/>
<rect x="1665.5" y="362.3" width="19.8" height="576" fill="#1b69af"/>
<rect x="1665.5" y="391.1" width="19.8" height="547.2" fill="#2272b6"/>
<rect x="1665.5" y="419.9" width="19.8" height="518.4" fill="#2c7cba"/>
<rect x="1665.5" y="448.7" width="19.8" height="489.6" fill="#3686c0"/>
<rect x="1665.5" y="477.5" width="19.8" height="460.8" fill="#3f8fc5"/>
<rect x="1665.5" y="506.3" width="19.8" height="432" fill="#4b98ca"/>
<rect x="1665.5" y="535.1" width="19.8" height="403.2" fill="#57a0ce"/>
<rect x="1665.5" y="563.9" width="19.8" height="374.4" fill="#63a8d3"/>
<rect x="1665.5" y="592.7" width="19.8" height="345.6" fill="#71b1d7"/>
<rect x="1665.5" y="621.5" width="19.8" height="316.8" fill="#7fb9da"/>
<rect x="1665.5" y="650.3" width="19.8" height="288" fill="#8dc1dd"/>
<rect x="1665.5" y="679.1" width="19.8" height="259.2" fill="#9dcae1"/>
<rect x="1665.5" y="707.9" width="19.8" height="230.4" fill="#a9cfe5"/>
<rect x="1665.5" y="736.7" width="19.8" height="201.6" fill="#b5d4e9"/>
<rect x="1665.5" y="765.5" width="19.8" height="172.8" fill="#c1d9ed"/>
<rect x="1665.5" y="794.3" width="19.8" height="144" fill="#caddf0"/>
<rect x="1665.5" y="823.1" width="19.8" height="115.2" fill="#d1e2f3"/>
<rect x="1665.5" y="851.9" width="19.8" height="86.4" fill="#d8e7f5"/>
<rect x="1665.5" y="880.7" width="19.8" height="57.6" fill="#dfebf7"/>
<rect x="1665.5" y="909.5" width="19.8" height="28.8" fill="#e7f0fa"/>
<rect x="1665.5" y="189.5" width="19.8" height="748.8" fill="none" stroke="#000" stroke-width="1.1"/>
<line x1="1685.3" y1="938.3" x2="1690.2" y2="938.3" stroke="#000" stroke-width="1.1"/>
<line x1="1685.3" y1="794.3" x2="1690.2" y2="794.3" stroke="#000" stroke-width="1.1"/>
<line x1="1685.3" y1="650.3" x2="1690.2" y2="650.3" stroke="#000" stroke-width="1.1"/>
<line x1="1685.3" y1="506.3" x2="1690.2" y2="506.3" stroke="#000" stroke-width="1.1"/>
<line x1="1685.3" y1="362.3" x2="1690.2" y2="362.3" stroke="#000" stroke-width="1.1"/>
<line x1="1685.3" y1="218.3" x2="1690.2" y2="218.3" stroke="#000" stroke-width="1.1"/>
<text x="1695.14" y="943.6" font-size="14.58" font-weight="normal" textLength="8.14" lengthAdjust="spacingAndGlyphs" fill="#000" stroke="#000" stroke-width="0.17" xml:space="preserve">0</text>
<text x="1695.16" y="799.6" font-size="14.58" font-weight="normal" textLength="16.98" lengthAdjust="spacingAndGlyphs" fill="#000" stroke="#000" stroke-width="0.17" xml:space="preserve">10</text>
<text x="1695.04" y="655.6" font-size="14.58" font-weight="normal" textLength="17.11" lengthAdjust="spacingAndGlyphs" fill="#000" stroke="#000" stroke-width="0.17" xml:space="preserve">20</text>
<text x="1695.28" y="511.6" font-size="14.58" font-weight="normal" textLength="16.86" lengthAdjust="spacingAndGlyphs" fill="#000" stroke="#000" stroke-width="0.17" xml:space="preserve">30</text>
<text x="1695.13" y="367.6" font-size="14.58" font-weight="normal" textLength="17.02" lengthAdjust="spacingAndGlyphs" fill="#000" stroke="#000" stroke-width="0.17" xml:space="preserve">40</text>
<text x="1695.26" y="223.6" font-size="14.58" font-weight="normal" textLength="16.88" lengthAdjust="spacingAndGlyphs" fill="#000" stroke="#000" stroke-width="0.17" xml:space="preserve">50</text>
<text transform="translate(1736.9,931.54) rotate(-90)" x="0" y="0" font-size="20.42" font-weight="bold" textLength="614.86" lengthAdjust="spacingAndGlyphs" fill="#000" stroke="#000" stroke-width="0.41">Named cyclones forecast - Number of EPS within 120km</text>
<rect x="25.3" y="1137.9" width="1640.1" height="40.5" fill="#9e0142"/>
<rect x="476.33" y="1137.9" width="1189.07" height="40.5" fill="#a90d45"/>
<rect x="845.35" y="1137.9" width="820.05" height="40.5" fill="#b41947"/>
<rect x="1009.36" y="1137.9" width="656.04" height="40.5" fill="#be254a"/>
<rect x="1337.38" y="1137.9" width="328.02" height="40.5" fill="#b41947"/>
<rect x="1378.38" y="1137.9" width="287.02" height="40.5" fill="#9e0142"/>
<rect x="25.3" y="1137.9" width="1640.1" height="40.5" fill="none" stroke="#000" stroke-width="1.1"/>
<line x1="25.3" y1="1178.4" x2="25.3" y2="1183.3000000000002" stroke="#000" stroke-width="1.1"/>
<line x1="66.3" y1="1178.4" x2="66.3" y2="1183.3000000000002" stroke="#000" stroke-width="1.1"/>
<line x1="107.31" y1="1178.4" x2="107.31" y2="1183.3000000000002" stroke="#000" stroke-width="1.1"/>
<line x1="148.31" y1="1178.4" x2="148.31" y2="1183.3000000000002" stroke="#000" stroke-width="1.1"/>
<line x1="189.31" y1="1178.4" x2="189.31" y2="1183.3000000000002" stroke="#000" stroke-width="1.1"/>
<line x1="230.31" y1="1178.4" x2="230.31" y2="1183.3000000000002" stroke="#000" stroke-width="1.1"/>
<line x1="271.32" y1="1178.4" x2="271.32" y2="1183.3000000000002" stroke="#000" stroke-width="1.1"/>
<line x1="312.32" y1="1178.4" x2="312.32" y2="1183.3000000000002" stroke="#000" stroke-width="1.1"/>
<line x1="353.32" y1="1178.4" x2="353.32" y2="1183.3000000000002" stroke="#000" stroke-width="1.1"/>
<line x1="394.32" y1="1178.4" x2="394.32" y2="1183.3000000000002" stroke="#000" stroke-width="1.1"/>
<line x1="435.33" y1="1178.4" x2="435.33" y2="1183.3000000000002" stroke="#000" stroke-width="1.1"/>
<line x1="476.33" y1="1178.4" x2="476.33" y2="1183.3000000000002" stroke="#000" stroke-width="1.1"/>
<line x1="517.33" y1="1178.4" x2="517.33" y2="1183.3000000000002" stroke="#000" stroke-width="1.1"/>
<line x1="558.33" y1="1178.4" x2="558.33" y2="1183.3000000000002" stroke="#000" stroke-width="1.1"/>
<line x1="599.34" y1="1178.4" x2="599.34" y2="1183.3000000000002" stroke="#000" stroke-width="1.1"/>
<line x1="640.34" y1="1178.4" x2="640.34" y2="1183.3000000000002" stroke="#000" stroke-width="1.1"/>
<line x1="681.34" y1="1178.4" x2="681.34" y2="1183.3000000000002" stroke="#000" stroke-width="1.1"/>
<line x1="722.34" y1="1178.4" x2="722.34" y2="1183.3000000000002" stroke="#000" stroke-width="1.1"/>
<line x1="763.35" y1="1178.4" x2="763.35" y2="1183.3000000000002" stroke="#000" stroke-width="1.1"/>
<line x1="804.35" y1="1178.4" x2="804.35" y2="1183.3000000000002" stroke="#000" stroke-width="1.1"/>
<line x1="845.35" y1="1178.4" x2="845.35" y2="1183.3000000000002" stroke="#000" stroke-width="1.1"/>
<line x1="886.35" y1="1178.4" x2="886.35" y2="1183.3000000000002" stroke="#000" stroke-width="1.1"/>
<line x1="927.36" y1="1178.4" x2="927.36" y2="1183.3000000000002" stroke="#000" stroke-width="1.1"/>
<line x1="968.36" y1="1178.4" x2="968.36" y2="1183.3000000000002" stroke="#000" stroke-width="1.1"/>
<line x1="1009.36" y1="1178.4" x2="1009.36" y2="1183.3000000000002" stroke="#000" stroke-width="1.1"/>
<line x1="1050.36" y1="1178.4" x2="1050.36" y2="1183.3000000000002" stroke="#000" stroke-width="1.1"/>
<line x1="1091.37" y1="1178.4" x2="1091.37" y2="1183.3000000000002" stroke="#000" stroke-width="1.1"/>
<line x1="1132.37" y1="1178.4" x2="1132.37" y2="1183.3000000000002" stroke="#000" stroke-width="1.1"/>
<line x1="1173.37" y1="1178.4" x2="1173.37" y2="1183.3000000000002" stroke="#000" stroke-width="1.1"/>
<line x1="1214.37" y1="1178.4" x2="1214.37" y2="1183.3000000000002" stroke="#000" stroke-width="1.1"/>
<line x1="1255.38" y1="1178.4" x2="1255.38" y2="1183.3000000000002" stroke="#000" stroke-width="1.1"/>
<line x1="1296.38" y1="1178.4" x2="1296.38" y2="1183.3000000000002" stroke="#000" stroke-width="1.1"/>
<line x1="1337.38" y1="1178.4" x2="1337.38" y2="1183.3000000000002" stroke="#000" stroke-width="1.1"/>
<line x1="1378.38" y1="1178.4" x2="1378.38" y2="1183.3000000000002" stroke="#000" stroke-width="1.1"/>
<line x1="1419.39" y1="1178.4" x2="1419.39" y2="1183.3000000000002" stroke="#000" stroke-width="1.1"/>
<line x1="1460.39" y1="1178.4" x2="1460.39" y2="1183.3000000000002" stroke="#000" stroke-width="1.1"/>
<line x1="1501.39" y1="1178.4" x2="1501.39" y2="1183.3000000000002" stroke="#000" stroke-width="1.1"/>
<line x1="1542.39" y1="1178.4" x2="1542.39" y2="1183.3000000000002" stroke="#000" stroke-width="1.1"/>
<line x1="1583.4" y1="1178.4" x2="1583.4" y2="1183.3000000000002" stroke="#000" stroke-width="1.1"/>
<line x1="1624.4" y1="1178.4" x2="1624.4" y2="1183.3000000000002" stroke="#000" stroke-width="1.1"/>
<line x1="1665.4" y1="1178.4" x2="1665.4" y2="1183.3000000000002" stroke="#000" stroke-width="1.1"/>
<line x1="20.4" y1="1158.2" x2="25.3" y2="1158.2" stroke="#000" stroke-width="1.1"/>
<text x="492.57" y="1162.1" font-size="14.58" font-weight="bold" textLength="8.5" lengthAdjust="spacingAndGlyphs" fill="#000" stroke="#000" stroke-width="0.29" xml:space="preserve">2</text>
<text x="533.57" y="1162.1" font-size="14.58" font-weight="bold" textLength="8.5" lengthAdjust="spacingAndGlyphs" fill="#000" stroke="#000" stroke-width="0.29" xml:space="preserve">2</text>
<text x="574.57" y="1162.1" font-size="14.58" font-weight="bold" textLength="8.5" lengthAdjust="spacingAndGlyphs" fill="#000" stroke="#000" stroke-width="0.29" xml:space="preserve">2</text>
<text x="615.57" y="1162.1" font-size="14.58" font-weight="bold" textLength="8.5" lengthAdjust="spacingAndGlyphs" fill="#000" stroke="#000" stroke-width="0.29" xml:space="preserve">2</text>
<text x="656.58" y="1162.1" font-size="14.58" font-weight="bold" textLength="8.5" lengthAdjust="spacingAndGlyphs" fill="#000" stroke="#000" stroke-width="0.29" xml:space="preserve">2</text>
<text x="697.58" y="1162.1" font-size="14.58" font-weight="bold" textLength="8.5" lengthAdjust="spacingAndGlyphs" fill="#000" stroke="#000" stroke-width="0.29" xml:space="preserve">2</text>
<text x="738.58" y="1162.1" font-size="14.58" font-weight="bold" textLength="8.5" lengthAdjust="spacingAndGlyphs" fill="#000" stroke="#000" stroke-width="0.29" xml:space="preserve">2</text>
<text x="779.58" y="1162.1" font-size="14.58" font-weight="bold" textLength="8.5" lengthAdjust="spacingAndGlyphs" fill="#000" stroke="#000" stroke-width="0.29" xml:space="preserve">2</text>
<text x="820.59" y="1162.1" font-size="14.58" font-weight="bold" textLength="8.5" lengthAdjust="spacingAndGlyphs" fill="#000" stroke="#000" stroke-width="0.29" xml:space="preserve">2</text>
<text x="861.41" y="1162.1" font-size="14.58" font-weight="bold" textLength="8.72" lengthAdjust="spacingAndGlyphs" fill="#000" stroke="#000" stroke-width="0.29" xml:space="preserve">4</text>
<text x="902.41" y="1162.1" font-size="14.58" font-weight="bold" textLength="8.72" lengthAdjust="spacingAndGlyphs" fill="#000" stroke="#000" stroke-width="0.29" xml:space="preserve">4</text>
<text x="943.41" y="1162.1" font-size="14.58" font-weight="bold" textLength="8.72" lengthAdjust="spacingAndGlyphs" fill="#000" stroke="#000" stroke-width="0.29" xml:space="preserve">4</text>
<text x="984.41" y="1162.1" font-size="14.58" font-weight="bold" textLength="8.72" lengthAdjust="spacingAndGlyphs" fill="#000" stroke="#000" stroke-width="0.29" xml:space="preserve">4</text>
<text x="1025.28" y="1162.1" font-size="14.58" font-weight="bold" textLength="9.27" lengthAdjust="spacingAndGlyphs" fill="#000" stroke="#000" stroke-width="0.29" xml:space="preserve">6</text>
<text x="1066.28" y="1162.1" font-size="14.58" font-weight="bold" textLength="9.27" lengthAdjust="spacingAndGlyphs" fill="#000" stroke="#000" stroke-width="0.29" xml:space="preserve">6</text>
<text x="1107.29" y="1162.1" font-size="14.58" font-weight="bold" textLength="9.27" lengthAdjust="spacingAndGlyphs" fill="#000" stroke="#000" stroke-width="0.29" xml:space="preserve">6</text>
<text x="1148.29" y="1162.1" font-size="14.58" font-weight="bold" textLength="9.27" lengthAdjust="spacingAndGlyphs" fill="#000" stroke="#000" stroke-width="0.29" xml:space="preserve">6</text>
<text x="1189.29" y="1162.1" font-size="14.58" font-weight="bold" textLength="9.27" lengthAdjust="spacingAndGlyphs" fill="#000" stroke="#000" stroke-width="0.29" xml:space="preserve">6</text>
<text x="1230.29" y="1162.1" font-size="14.58" font-weight="bold" textLength="9.27" lengthAdjust="spacingAndGlyphs" fill="#000" stroke="#000" stroke-width="0.29" xml:space="preserve">6</text>
<text x="1271.3" y="1162.1" font-size="14.58" font-weight="bold" textLength="9.27" lengthAdjust="spacingAndGlyphs" fill="#000" stroke="#000" stroke-width="0.29" xml:space="preserve">6</text>
<text x="1312.3" y="1162.1" font-size="14.58" font-weight="bold" textLength="9.27" lengthAdjust="spacingAndGlyphs" fill="#000" stroke="#000" stroke-width="0.29" xml:space="preserve">6</text>
<text x="1353.44" y="1162.1" font-size="14.58" font-weight="bold" textLength="8.72" lengthAdjust="spacingAndGlyphs" fill="#000" stroke="#000" stroke-width="0.29" xml:space="preserve">4</text>
<text x="13.57" y="1199.9" font-size="17.5" font-weight="bold" textLength="23.4" lengthAdjust="spacingAndGlyphs" fill="#000" stroke="#000" stroke-width="0.35" xml:space="preserve">0h</text>
<text x="172.4" y="1199.9" font-size="17.5" font-weight="bold" textLength="34.37" lengthAdjust="spacingAndGlyphs" fill="#000" stroke="#000" stroke-width="0.35" xml:space="preserve">12h</text>
<text x="336.42" y="1199.9" font-size="17.5" font-weight="bold" textLength="34.37" lengthAdjust="spacingAndGlyphs" fill="#000" stroke="#000" stroke-width="0.35" xml:space="preserve">24h</text>
<text x="500.46" y="1199.9" font-size="17.5" font-weight="bold" textLength="34.33" lengthAdjust="spacingAndGlyphs" fill="#000" stroke="#000" stroke-width="0.35" xml:space="preserve">36h</text>
<text x="664.26" y="1199.9" font-size="17.5" font-weight="bold" textLength="34.55" lengthAdjust="spacingAndGlyphs" fill="#000" stroke="#000" stroke-width="0.35" xml:space="preserve">48h</text>
<text x="828.12" y="1199.9" font-size="17.5" font-weight="bold" textLength="34.71" lengthAdjust="spacingAndGlyphs" fill="#000" stroke="#000" stroke-width="0.35" xml:space="preserve">60h</text>
<text x="992.08" y="1199.9" font-size="17.5" font-weight="bold" textLength="34.76" lengthAdjust="spacingAndGlyphs" fill="#000" stroke="#000" stroke-width="0.35" xml:space="preserve">72h</text>
<text x="1156.22" y="1199.9" font-size="17.5" font-weight="bold" textLength="34.62" lengthAdjust="spacingAndGlyphs" fill="#000" stroke="#000" stroke-width="0.35" xml:space="preserve">84h</text>
<text x="1320.01" y="1199.9" font-size="17.5" font-weight="bold" textLength="34.85" lengthAdjust="spacingAndGlyphs" fill="#000" stroke="#000" stroke-width="0.35" xml:space="preserve">96h</text>
<text x="1478.67" y="1199.9" font-size="17.5" font-weight="bold" textLength="46" lengthAdjust="spacingAndGlyphs" fill="#000" stroke="#000" stroke-width="0.35" xml:space="preserve">108h</text>
<text x="1642.68" y="1199.9" font-size="17.5" font-weight="bold" textLength="46" lengthAdjust="spacingAndGlyphs" fill="#000" stroke="#000" stroke-width="0.35" xml:space="preserve">120h</text>
<text x="549.67" y="1120.8" font-size="17.5" font-weight="bold" textLength="629.81" lengthAdjust="spacingAndGlyphs" fill="#000" stroke="#000" stroke-width="0.35" xml:space="preserve">Percentage of flying ballons within a TC as a function of flight time</text>
</svg></body></html>
